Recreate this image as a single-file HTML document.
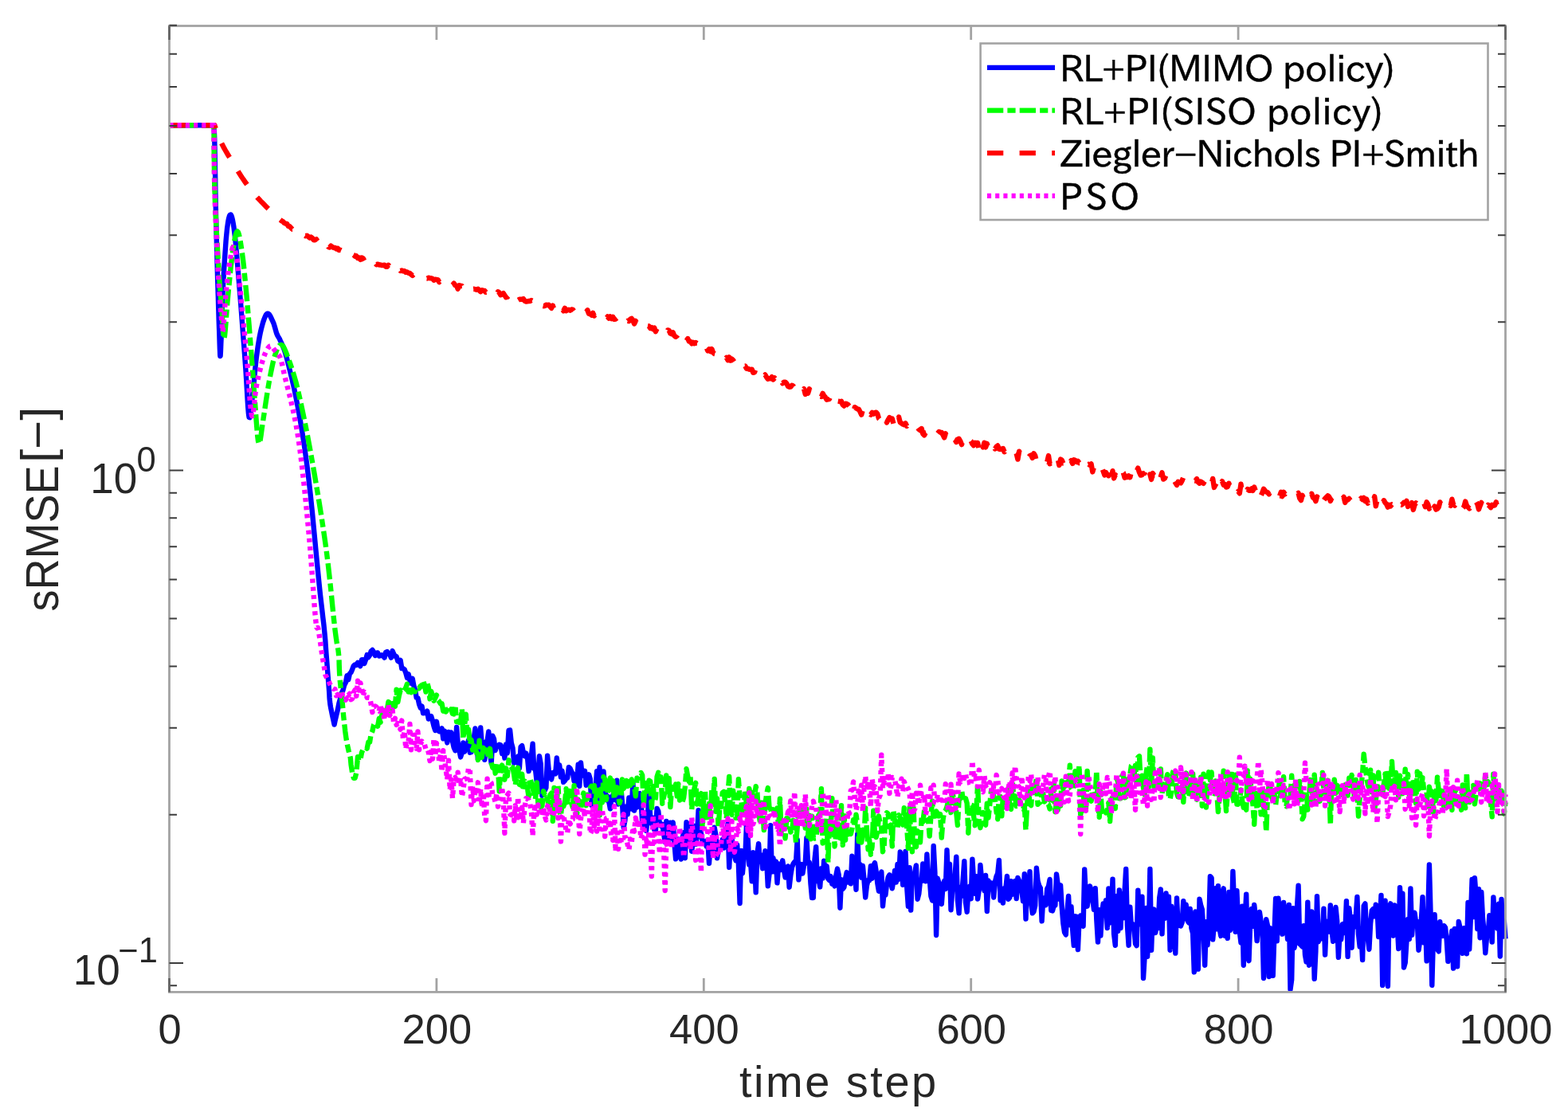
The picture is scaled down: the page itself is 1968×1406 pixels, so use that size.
<!DOCTYPE html><html><head><meta charset="utf-8"><style>html,body{margin:0;padding:0;background:#fff;overflow:hidden}svg{display:block}</style></head><body>
<svg width="1968" height="1406" viewBox="0 0 1968 1406">
<rect width="1968" height="1406" fill="#fff"/>
<path d="M212.5 157.3 L268.5 157.3 L268.6 159.7 L268.7 162.4 L268.9 165.9 L269.1 170.5 L269.3 176.8 L269.5 185.0 L269.7 195.7 L269.9 208.8 L270.2 223.4 L270.4 238.9 L270.7 254.5 L271.0 269.6 L271.4 284.6 L271.8 300.2 L272.2 316.0 L272.6 331.4 L273.0 346.0 L273.4 359.3 L273.8 371.4 L274.1 382.6 L274.4 393.0 L274.7 402.6 L275.0 411.2 L275.3 419.0 L275.5 426.1 L275.7 432.5 L275.9 438.1 L276.1 442.5 L276.2 445.6 L276.4 447.0 L276.6 446.7 L276.7 445.0 L276.9 441.9 L277.1 437.4 L277.3 431.8 L277.6 425.0 L277.9 416.6 L278.2 406.3 L278.6 394.9 L279.0 382.8 L279.5 370.8 L280.0 359.3 L280.6 347.9 L281.3 335.8 L282.1 323.8 L282.9 312.3 L283.6 302.0 L284.4 293.5 L285.1 286.6 L285.9 281.0 L286.6 276.5 L287.4 273.1 L288.1 270.8 L288.9 269.6 L289.6 269.5 L290.4 270.6 L291.1 272.8 L291.9 276.0 L292.6 279.9 L293.4 284.6 L294.1 290.0 L294.8 296.2 L295.6 303.3 L296.3 311.1 L297.1 319.9 L297.9 329.4 L298.8 340.3 L299.8 352.7 L300.9 365.9 L302.0 379.3 L303.0 392.3 L303.9 404.2 L304.7 415.0 L305.5 425.2 L306.3 435.0 L307.0 444.6 L307.7 454.2 L308.4 464.0 L309.1 475.0 L309.8 487.3 L310.5 499.5 L311.2 510.5 L311.9 519.0 L312.6 523.8 L313.4 524.2 L314.1 521.0 L314.9 515.4 L315.7 508.3 L316.5 500.8 L317.3 493.9 L318.0 487.2 L318.8 479.7 L319.5 471.8 L320.2 463.8 L321.0 456.1 L321.8 449.0 L322.7 442.3 L323.6 435.8 L324.6 429.5 L325.6 423.6 L326.7 418.1 L327.8 413.2 L329.0 408.7 L330.2 404.4 L331.5 400.6 L332.8 397.4 L334.0 395.0 L335.3 393.7 L336.6 393.7 L337.9 394.8 L339.2 396.8 L340.4 399.2 L341.6 401.8 L342.7 404.2 L343.7 406.6 L344.5 409.2 L345.3 412.0 L346.1 414.8 L346.8 417.4 L347.6 419.6 L348.3 421.2 L349.0 422.4 L349.6 423.4 L350.3 424.5 L351.1 425.9 L352.0 428.0 L353.1 430.4 L354.2 432.8 L355.4 435.6 L356.8 439.2 L358.3 443.9 L360.0 450.0 L362.0 457.7 L364.2 466.7 L366.7 476.9 L369.2 487.9 L371.6 499.7 L374.0 512.0 L376.3 524.6 L378.5 537.8 L380.7 551.6 L382.9 566.4 L385.1 582.5 L387.3 600.0 L389.6 620.4 L392.0 643.6 L394.3 668.1 L396.6 692.2 L398.7 714.1 L400.5 732.4 L402.0 746.6 L403.3 757.9 L404.4 767.1 L405.3 775.1 L406.2 782.4 L407.0 790.0 L407.7 797.4 L408.3 803.9 L408.7 809.9 L409.1 815.6 L409.5 821.3 L410.0 827.3 L410.5 833.7 L411.0 840.4 L411.5 847.1 L412.0 853.6 L412.5 859.5 L412.9 864.7 L413.2 868.9 L413.4 872.3 L413.5 875.2 L413.7 877.9 L414.0 880.7 L414.4 884.1 L415.1 888.3 L416.1 893.1 L417.1 898.0 L418.1 902.7 L419.0 906.7 L419.6 909.5 L420.4 905.6 L422.1 898.3 L423.8 891.3 L425.5 882.7 L427.2 876.7 L428.8 870.0 L430.5 866.5 L432.2 860.0 L433.9 856.8 L435.5 848.3 L437.2 853.2 L438.9 845.7 L440.6 844.0 L442.2 840.2 L443.9 835.7 L445.6 834.4 L447.3 834.9 L449.0 831.8 L450.6 832.9 L452.3 836.2 L454.0 828.1 L455.7 828.2 L457.3 832.9 L459.0 828.1 L460.7 822.1 L462.4 825.1 L464.1 822.5 L465.7 817.6 L467.4 816.0 L469.1 818.6 L470.8 822.9 L472.4 819.9 L474.1 819.4 L475.8 823.5 L477.5 823.2 L479.1 822.2 L480.8 822.7 L482.5 825.6 L484.2 818.9 L485.9 818.1 L487.5 820.9 L489.2 821.8 L490.9 825.6 L492.6 817.1 L494.2 821.0 L495.9 823.8 L497.6 824.1 L499.3 829.9 L500.9 830.9 L502.6 828.9 L504.3 839.1 L506.0 839.1 L507.7 840.5 L509.3 844.7 L511.0 851.0 L512.7 846.3 L514.4 854.2 L516.0 857.6 L517.7 851.9 L519.4 861.1 L521.1 865.8 L522.7 875.9 L524.4 876.1 L526.1 884.0 L527.8 888.5 L529.5 886.7 L531.1 895.3 L532.8 894.4 L534.5 895.3 L536.2 892.6 L537.8 902.5 L539.5 900.4 L541.2 899.2 L542.9 904.8 L544.5 911.5 L546.2 916.9 L547.9 905.8 L549.6 916.6 L551.3 918.3 L552.9 917.8 L554.6 914.4 L556.3 927.4 L558.0 917.7 L559.6 924.6 L561.3 932.4 L563.0 919.0 L564.7 928.0 L566.3 919.5 L568.0 930.8 L569.7 938.5 L571.4 942.3 L573.1 913.0 L574.7 932.7 L576.4 941.7 L578.1 950.4 L579.8 945.0 L581.4 932.4 L583.1 943.7 L584.8 934.3 L586.5 935.5 L588.1 928.9 L589.8 944.7 L591.5 944.2 L593.2 932.9 L594.9 925.7 L596.5 914.5 L598.2 931.5 L599.9 952.9 L601.6 938.2 L603.2 913.4 L604.9 936.0 L606.6 932.1 L608.3 953.7 L609.9 931.2 L611.6 929.9 L613.3 918.5 L615.0 945.3 L616.7 958.4 L618.3 923.8 L620.0 927.6 L621.7 942.1 L623.4 936.7 L625.0 936.9 L626.7 934.7 L628.4 935.2 L630.1 946.0 L631.8 938.0 L633.4 951.5 L635.1 934.4 L636.8 945.4 L638.5 916.9 L640.1 916.5 L641.8 932.7 L643.5 938.9 L645.2 957.7 L646.8 955.9 L648.5 957.0 L650.2 949.6 L651.9 964.5 L653.6 937.6 L655.2 936.2 L656.9 944.9 L658.6 949.3 L660.3 945.6 L661.9 950.7 L663.6 968.1 L665.3 961.7 L667.0 947.9 L668.6 933.8 L670.3 965.1 L672.0 966.1 L673.7 981.1 L675.4 969.7 L677.0 949.2 L678.7 958.7 L680.4 998.9 L682.1 986.9 L683.7 992.3 L685.4 988.8 L687.1 948.8 L688.8 967.2 L690.4 974.1 L692.1 978.4 L693.8 970.0 L695.5 970.2 L697.2 971.3 L698.8 951.5 L700.5 968.6 L702.2 960.5 L703.9 975.4 L705.5 967.6 L707.2 981.9 L708.9 980.1 L710.6 977.2 L712.2 976.5 L713.9 963.1 L715.6 964.6 L717.3 968.8 L719.0 971.2 L720.6 980.6 L722.3 975.5 L724.0 984.5 L725.7 959.8 L727.3 986.7 L729.0 957.4 L730.7 973.6 L732.4 970.6 L734.0 967.8 L735.7 985.7 L737.4 976.5 L739.1 972.4 L740.8 978.0 L742.4 1010.8 L744.1 991.3 L745.8 988.2 L747.5 989.3 L749.1 968.2 L750.8 1009.7 L752.5 963.1 L754.2 993.4 L755.8 1002.7 L757.5 968.5 L759.2 988.5 L760.9 1004.2 L762.6 999.5 L764.2 1006.0 L765.9 1015.3 L767.6 1000.6 L769.3 998.3 L770.9 993.8 L772.6 1004.5 L774.3 979.6 L776.0 1009.5 L777.6 994.3 L779.3 987.9 L781.0 1008.1 L782.7 1038.8 L784.4 1030.2 L786.0 1012.5 L787.7 1022.4 L789.4 1001.4 L791.1 1008.0 L792.7 1015.5 L794.4 981.9 L796.1 1017.6 L797.8 1008.4 L799.5 1013.5 L801.1 996.4 L802.8 996.1 L804.5 1003.5 L806.2 1032.8 L807.8 1039.8 L809.5 1020.1 L811.2 1042.9 L812.9 1024.5 L814.5 996.9 L816.2 1025.4 L817.9 1034.1 L819.6 1026.7 L821.3 1041.8 L822.9 1042.7 L824.6 1015.0 L826.3 1018.5 L828.0 1035.9 L829.6 1036.9 L831.3 1034.8 L833.0 1046.1 L834.7 1057.1 L836.3 1030.9 L838.0 1053.1 L839.7 1054.6 L841.4 1032.6 L843.1 1044.9 L844.7 1032.4 L846.4 1058.1 L848.1 1078.4 L849.8 1073.1 L851.4 1053.4 L853.1 1071.0 L854.8 1078.6 L856.5 1052.1 L858.1 1045.3 L859.8 1077.2 L861.5 1032.3 L863.2 1061.3 L864.9 1055.2 L866.5 1034.3 L868.2 1068.7 L869.9 1055.7 L871.6 1036.9 L873.2 1059.9 L874.9 1049.9 L876.6 1017.1 L878.3 1038.3 L879.9 1045.9 L881.6 1055.4 L883.3 1056.7 L885.0 1056.4 L886.7 1062.6 L888.3 1054.2 L890.0 1083.8 L891.7 1058.5 L893.4 1067.3 L895.0 1060.4 L896.7 1038.7 L898.4 1048.3 L900.1 1077.3 L901.7 1065.0 L903.4 1061.9 L905.1 1062.8 L906.8 1053.7 L908.5 1064.6 L910.1 1041.9 L911.8 1061.5 L913.5 1034.3 L915.2 1088.9 L916.8 1055.8 L918.5 1052.5 L920.2 1065.4 L921.9 1074.8 L923.5 1080.3 L925.2 1060.6 L926.9 1085.1 L928.6 1134.0 L930.3 1067.9 L931.9 1096.3 L933.6 1077.7 L935.3 1075.8 L937.0 1034.2 L938.6 1051.4 L940.3 1085.6 L942.0 1081.8 L943.7 1106.3 L945.3 1070.1 L947.0 1079.9 L948.7 1120.3 L950.4 1071.6 L952.1 1059.2 L953.7 1081.5 L955.4 1073.5 L957.1 1090.3 L958.8 1079.4 L960.4 1068.1 L962.1 1079.1 L963.8 1112.3 L965.5 1097.3 L967.1 1036.3 L968.8 1094.4 L970.5 1077.1 L972.2 1094.2 L973.9 1081.4 L975.5 1108.4 L977.2 1084.4 L978.9 1092.3 L980.6 1090.1 L982.2 1080.3 L983.9 1091.7 L985.6 1101.5 L987.3 1095.4 L989.0 1087.5 L990.6 1113.8 L992.3 1099.1 L994.0 1088.7 L995.7 1084.1 L997.3 1082.0 L999.0 1082.7 L1000.7 1054.1 L1002.4 1104.3 L1004.0 1089.4 L1005.7 1085.0 L1007.4 1096.5 L1009.1 1085.7 L1010.8 1082.6 L1012.4 1051.9 L1014.1 1083.9 L1015.8 1082.6 L1017.5 1109.8 L1019.1 1127.1 L1020.8 1127.0 L1022.5 1079.1 L1024.2 1063.1 L1025.8 1106.0 L1027.5 1102.4 L1029.2 1113.4 L1030.9 1090.1 L1032.6 1102.7 L1034.2 1080.7 L1035.9 1099.2 L1037.6 1087.2 L1039.3 1103.1 L1040.9 1105.1 L1042.6 1100.1 L1044.3 1109.7 L1046.0 1105.0 L1047.6 1112.4 L1049.3 1099.1 L1051.0 1090.6 L1052.7 1098.1 L1054.4 1139.7 L1056.0 1104.2 L1057.7 1116.0 L1059.4 1113.8 L1061.1 1103.0 L1062.7 1095.1 L1064.4 1107.6 L1066.1 1100.5 L1067.8 1109.3 L1069.4 1074.8 L1071.1 1085.5 L1072.8 1093.4 L1074.5 1116.7 L1076.2 1047.1 L1077.8 1091.2 L1079.5 1085.2 L1081.2 1101.6 L1082.9 1087.0 L1084.5 1104.5 L1086.2 1126.6 L1087.9 1111.8 L1089.6 1104.9 L1091.2 1105.2 L1092.9 1087.1 L1094.6 1102.7 L1096.3 1086.1 L1098.0 1083.2 L1099.6 1093.3 L1101.3 1108.6 L1103.0 1118.8 L1104.7 1104.1 L1106.3 1094.5 L1108.0 1137.4 L1109.7 1119.7 L1111.4 1123.6 L1113.0 1109.8 L1114.7 1101.3 L1116.4 1098.3 L1118.1 1108.2 L1119.8 1115.3 L1121.4 1105.5 L1123.1 1092.9 L1124.8 1107.5 L1126.5 1084.9 L1128.1 1103.7 L1129.8 1069.4 L1131.5 1077.3 L1133.2 1110.8 L1134.8 1103.7 L1136.5 1068.9 L1138.2 1113.5 L1139.9 1137.8 L1141.6 1089.1 L1143.2 1142.6 L1144.9 1098.3 L1146.6 1102.5 L1148.3 1094.3 L1149.9 1086.5 L1151.6 1128.7 L1153.3 1122.0 L1155.0 1105.7 L1156.7 1106.1 L1158.3 1084.5 L1160.0 1096.8 L1161.7 1106.3 L1163.4 1072.5 L1165.0 1097.8 L1166.7 1101.9 L1168.4 1125.0 L1170.1 1130.4 L1171.7 1062.0 L1173.4 1094.6 L1175.1 1174.0 L1176.8 1102.8 L1178.5 1108.5 L1180.1 1128.2 L1181.8 1134.9 L1183.5 1112.3 L1185.2 1105.9 L1186.8 1116.0 L1188.5 1067.2 L1190.2 1109.1 L1191.9 1084.7 L1193.5 1142.2 L1195.2 1118.0 L1196.9 1113.6 L1198.6 1098.7 L1200.3 1075.6 L1201.9 1129.5 L1203.6 1146.3 L1205.3 1113.6 L1207.0 1124.9 L1208.6 1105.0 L1210.3 1081.2 L1212.0 1132.9 L1213.7 1144.8 L1215.3 1118.7 L1217.0 1112.8 L1218.7 1128.2 L1220.4 1078.7 L1222.1 1105.7 L1223.7 1121.8 L1225.4 1100.1 L1227.1 1128.6 L1228.8 1117.0 L1230.4 1085.9 L1232.1 1104.1 L1233.8 1109.0 L1235.5 1118.2 L1237.1 1099.0 L1238.8 1144.0 L1240.5 1105.4 L1242.2 1113.4 L1243.9 1108.3 L1245.5 1111.2 L1247.2 1126.5 L1248.9 1107.2 L1250.6 1100.1 L1252.2 1096.6 L1253.9 1080.0 L1255.6 1130.4 L1257.3 1122.3 L1258.9 1133.6 L1260.6 1115.3 L1262.3 1115.5 L1264.0 1099.9 L1265.7 1128.7 L1267.3 1126.8 L1269.0 1106.3 L1270.7 1122.8 L1272.4 1116.4 L1274.0 1106.1 L1275.7 1128.0 L1277.4 1101.9 L1279.1 1105.6 L1280.7 1117.3 L1282.4 1118.8 L1284.1 1131.4 L1285.8 1097.3 L1287.5 1153.6 L1289.1 1110.1 L1290.8 1124.4 L1292.5 1094.1 L1294.2 1133.3 L1295.8 1146.4 L1297.5 1144.4 L1299.2 1136.8 L1300.9 1089.7 L1302.5 1105.9 L1304.2 1111.9 L1305.9 1114.9 L1307.6 1156.3 L1309.3 1127.4 L1310.9 1131.1 L1312.6 1136.3 L1314.3 1115.7 L1316.0 1112.5 L1317.6 1104.0 L1319.3 1143.0 L1321.0 1143.4 L1322.7 1137.2 L1324.4 1136.5 L1326.0 1097.5 L1327.7 1110.2 L1329.4 1128.6 L1331.1 1111.4 L1332.7 1138.2 L1334.4 1159.2 L1336.1 1170.4 L1337.8 1173.4 L1339.4 1144.0 L1341.1 1124.9 L1342.8 1161.2 L1344.5 1138.2 L1346.2 1167.3 L1347.8 1186.9 L1349.5 1150.3 L1351.2 1150.6 L1352.9 1192.0 L1354.5 1155.2 L1356.2 1149.4 L1357.9 1157.2 L1359.6 1162.8 L1361.2 1091.4 L1362.9 1125.8 L1364.6 1137.7 L1366.3 1125.8 L1368.0 1112.4 L1369.6 1118.1 L1371.3 1128.4 L1373.0 1141.8 L1374.7 1115.2 L1376.3 1154.3 L1378.0 1182.5 L1379.7 1142.1 L1381.4 1174.6 L1383.0 1146.9 L1384.7 1134.4 L1386.4 1146.2 L1388.1 1130.2 L1389.8 1165.0 L1391.4 1115.4 L1393.1 1158.5 L1394.8 1151.5 L1396.5 1103.6 L1398.1 1172.4 L1399.8 1186.7 L1401.5 1124.9 L1403.2 1168.8 L1404.8 1117.4 L1406.5 1165.0 L1408.2 1122.1 L1409.9 1152.4 L1411.6 1118.1 L1413.2 1091.0 L1414.9 1161.5 L1416.6 1186.7 L1418.3 1138.7 L1419.9 1162.3 L1421.6 1160.0 L1423.3 1163.3 L1425.0 1184.7 L1426.6 1187.1 L1428.3 1117.7 L1430.0 1153.3 L1431.7 1160.6 L1433.4 1125.6 L1435.0 1228.0 L1436.7 1199.9 L1438.4 1140.0 L1440.1 1200.8 L1441.7 1174.5 L1443.4 1091.0 L1445.1 1192.9 L1446.8 1145.0 L1448.4 1141.7 L1450.1 1171.0 L1451.8 1162.9 L1453.5 1165.2 L1455.2 1127.3 L1456.8 1116.4 L1458.5 1172.3 L1460.2 1124.2 L1461.9 1152.8 L1463.5 1121.5 L1465.2 1148.2 L1466.9 1125.7 L1468.6 1192.7 L1470.2 1137.6 L1471.9 1153.4 L1473.6 1150.6 L1475.3 1196.6 L1477.0 1127.4 L1478.6 1162.1 L1480.3 1152.9 L1482.0 1162.5 L1483.7 1157.7 L1485.3 1131.1 L1487.0 1152.7 L1488.7 1135.7 L1490.4 1155.6 L1492.1 1158.4 L1493.7 1141.0 L1495.4 1165.5 L1497.1 1171.6 L1498.8 1220.3 L1500.4 1144.4 L1502.1 1164.7 L1503.8 1216.6 L1505.5 1128.8 L1507.1 1136.1 L1508.8 1141.7 L1510.5 1169.4 L1512.2 1211.7 L1513.9 1157.3 L1515.5 1186.3 L1517.2 1161.0 L1518.9 1100.1 L1520.6 1102.1 L1522.2 1179.4 L1523.9 1160.1 L1525.6 1115.1 L1527.3 1166.2 L1528.9 1112.1 L1530.6 1165.3 L1532.3 1174.9 L1534.0 1125.4 L1535.7 1115.3 L1537.3 1174.7 L1539.0 1126.7 L1540.7 1177.8 L1542.4 1119.9 L1544.0 1167.9 L1545.7 1162.4 L1547.4 1094.0 L1549.1 1136.5 L1550.7 1169.8 L1552.4 1118.1 L1554.1 1158.2 L1555.8 1169.7 L1557.5 1183.4 L1559.1 1137.6 L1560.8 1211.7 L1562.5 1155.6 L1564.2 1122.7 L1565.8 1197.4 L1567.5 1206.2 L1569.2 1159.2 L1570.9 1140.9 L1572.5 1162.9 L1574.2 1135.9 L1575.9 1152.4 L1577.6 1181.1 L1579.3 1161.4 L1580.9 1145.0 L1582.6 1156.4 L1584.3 1160.3 L1586.0 1228.0 L1587.6 1177.0 L1589.3 1154.3 L1591.0 1162.2 L1592.7 1226.0 L1594.3 1165.3 L1596.0 1168.8 L1597.7 1224.9 L1599.4 1172.9 L1601.1 1127.9 L1602.7 1181.3 L1604.4 1127.8 L1606.1 1148.5 L1607.8 1158.1 L1609.4 1172.6 L1611.1 1132.9 L1612.8 1155.6 L1614.5 1159.1 L1616.1 1179.0 L1617.8 1135.9 L1619.5 1242.0 L1621.2 1229.7 L1622.9 1140.3 L1624.5 1190.1 L1626.2 1178.8 L1627.9 1140.3 L1629.6 1111.7 L1631.2 1184.9 L1632.9 1186.5 L1634.6 1188.3 L1636.3 1162.1 L1638.0 1198.6 L1639.6 1207.6 L1641.3 1132.7 L1643.0 1211.7 L1644.7 1163.3 L1646.3 1144.4 L1648.0 1157.8 L1649.7 1228.9 L1651.4 1194.0 L1653.0 1125.1 L1654.7 1182.2 L1656.4 1175.0 L1658.1 1178.4 L1659.8 1171.3 L1661.4 1140.6 L1663.1 1198.6 L1664.8 1156.7 L1666.5 1162.9 L1668.1 1169.6 L1669.8 1136.4 L1671.5 1168.9 L1673.2 1181.9 L1674.8 1156.3 L1676.5 1139.0 L1678.2 1156.1 L1679.9 1201.8 L1681.6 1169.1 L1683.2 1179.5 L1684.9 1160.3 L1686.6 1159.7 L1688.3 1170.9 L1689.9 1131.2 L1691.6 1200.8 L1693.3 1140.2 L1695.0 1156.0 L1696.6 1189.7 L1698.3 1151.3 L1700.0 1163.5 L1701.7 1150.5 L1703.4 1126.0 L1705.0 1172.7 L1706.7 1188.3 L1708.4 1170.6 L1710.1 1205.1 L1711.7 1137.2 L1713.4 1134.4 L1715.1 1169.5 L1716.8 1178.7 L1718.4 1191.7 L1720.1 1159.5 L1721.8 1143.1 L1723.5 1141.1 L1725.2 1150.4 L1726.8 1135.6 L1728.5 1138.4 L1730.2 1176.0 L1731.9 1158.6 L1733.5 1124.0 L1735.2 1236.9 L1736.9 1152.6 L1738.6 1130.8 L1740.2 1181.6 L1741.9 1238.0 L1743.6 1139.1 L1745.3 1134.4 L1747.0 1140.2 L1748.6 1174.7 L1750.3 1136.4 L1752.0 1150.2 L1753.7 1160.6 L1755.3 1191.0 L1757.0 1114.2 L1758.7 1143.4 L1760.4 1121.7 L1762.0 1214.5 L1763.7 1208.7 L1765.4 1182.6 L1767.1 1153.9 L1768.8 1179.0 L1770.4 1115.5 L1772.1 1173.7 L1773.8 1151.8 L1775.5 1145.8 L1777.1 1158.0 L1778.8 1156.9 L1780.5 1192.7 L1782.2 1181.1 L1783.8 1156.7 L1785.5 1126.2 L1787.2 1183.4 L1788.9 1153.3 L1790.6 1206.3 L1792.2 1149.6 L1793.9 1085.5 L1795.6 1147.6 L1797.3 1236.8 L1798.9 1178.1 L1800.6 1148.3 L1802.3 1187.5 L1804.0 1191.8 L1805.7 1194.3 L1807.3 1157.3 L1809.0 1171.1 L1810.7 1174.8 L1812.4 1162.2 L1814.0 1164.4 L1815.7 1179.8 L1817.4 1206.9 L1819.1 1184.7 L1820.7 1183.2 L1822.4 1168.7 L1824.1 1215.6 L1825.8 1165.9 L1827.5 1176.5 L1829.1 1213.4 L1830.8 1156.9 L1832.5 1164.6 L1834.2 1183.6 L1835.8 1196.9 L1837.5 1165.1 L1839.2 1177.7 L1840.9 1197.2 L1842.5 1133.0 L1844.2 1191.6 L1845.9 1151.6 L1847.6 1104.0 L1849.3 1151.1 L1850.9 1102.3 L1852.6 1124.6 L1854.3 1166.1 L1856.0 1116.2 L1857.6 1177.2 L1859.3 1119.9 L1861.0 1152.9 L1862.7 1170.2 L1864.3 1196.2 L1866.0 1176.7 L1867.7 1172.5 L1869.4 1149.1 L1871.1 1156.0 L1872.7 1182.6 L1874.4 1126.4 L1876.1 1160.3 L1877.8 1144.8 L1879.4 1165.5 L1881.1 1134.8 L1882.8 1200.5 L1884.5 1128.9 L1886.1 1173.0 L1887.8 1156.1 L1889.5 1178.4" fill="none" stroke="#0000ff" stroke-width="6.4" stroke-linejoin="round"/>
<path d="M212.5 157.3 L268.5 157.3 L268.6 166.2 L268.6 178.4 L268.7 192.9 L268.9 208.6 L269.1 224.6 L269.5 239.7 L270.0 254.6 L270.7 270.2 L271.5 286.0 L272.4 301.4 L273.2 316.1 L274.0 329.4 L274.8 341.4 L275.5 352.4 L276.3 362.7 L277.0 372.1 L277.7 381.0 L278.4 389.2 L279.0 397.6 L279.4 406.1 L279.9 414.1 L280.3 420.4 L280.8 424.4 L281.4 425.1 L282.0 421.7 L282.7 414.8 L283.5 405.5 L284.2 394.9 L285.0 384.1 L285.9 374.3 L286.8 364.8 L287.8 354.7 L288.8 344.4 L289.8 334.4 L290.9 325.3 L291.9 317.5 L292.9 310.7 L293.9 304.3 L294.9 298.8 L295.9 294.4 L296.9 291.5 L297.9 290.5 L298.9 291.5 L299.9 294.4 L300.9 298.8 L301.9 304.3 L302.9 310.7 L303.9 317.5 L304.9 325.0 L305.9 333.6 L306.8 342.9 L307.8 352.9 L308.8 363.5 L309.8 374.3 L310.8 385.9 L311.8 398.4 L312.9 411.5 L313.9 424.5 L314.9 437.2 L315.8 449.0 L316.6 460.0 L317.4 470.5 L318.1 480.6 L318.9 490.4 L319.6 499.8 L320.3 508.9 L321.0 518.5 L321.7 528.7 L322.5 538.6 L323.2 547.2 L324.0 553.5 L324.8 556.7 L325.7 556.0 L326.7 551.9 L327.7 545.7 L328.7 538.2 L329.8 530.6 L330.8 523.8 L331.8 517.6 L332.7 511.2 L333.7 504.5 L334.7 497.9 L335.7 491.3 L336.8 484.9 L337.9 478.5 L339.1 472.0 L340.4 465.5 L341.7 459.4 L342.9 453.8 L344.2 449.0 L345.5 444.8 L346.8 441.1 L348.1 437.9 L349.4 435.4 L350.7 433.7 L352.0 432.9 L353.3 432.9 L354.4 433.6 L355.6 435.1 L356.9 437.5 L358.3 440.8 L360.0 445.0 L361.9 450.1 L364.1 456.0 L366.4 462.7 L368.8 470.6 L371.4 479.6 L374.0 490.0 L376.7 501.9 L379.6 515.4 L382.6 530.0 L385.7 545.6 L388.7 561.7 L391.7 578.2 L394.7 595.4 L397.8 613.6 L400.9 632.5 L403.9 651.5 L406.7 670.3 L409.3 688.4 L411.6 706.7 L413.7 725.6 L415.7 744.2 L417.4 761.8 L419.0 777.3 L420.4 790.0 L421.6 799.1 L422.5 805.3 L423.2 809.4 L423.9 812.6 L424.4 815.7 L424.9 819.9 L425.3 824.9 L425.6 829.9 L425.7 834.9 L425.9 839.8 L426.1 844.8 L426.4 849.8 L426.8 854.8 L427.3 859.7 L427.8 864.7 L428.4 869.7 L428.9 874.6 L429.4 879.6 L429.9 884.7 L430.4 889.8 L430.8 895.0 L431.3 900.1 L431.8 904.9 L432.3 909.5 L432.8 913.7 L433.2 917.6 L433.7 921.4 L434.2 924.9 L434.7 928.4 L435.3 931.9 L436.0 935.5 L436.9 939.3 L437.7 943.0 L438.6 946.4 L439.3 949.2 L439.8 951.3 L440.6 959.9 L442.2 970.4 L443.9 976.7 L445.6 976.8 L447.3 970.1 L449.0 950.2 L450.6 955.3 L452.3 953.9 L454.0 944.7 L455.7 940.8 L457.3 938.0 L459.0 938.3 L460.7 939.6 L462.4 931.4 L464.1 931.4 L465.7 921.4 L467.4 917.8 L469.1 910.0 L470.8 907.1 L472.4 909.2 L474.1 911.7 L475.8 902.0 L477.5 906.8 L479.1 898.4 L480.8 894.3 L482.5 893.7 L484.2 898.0 L485.9 890.9 L487.5 881.1 L489.2 882.7 L490.9 893.0 L492.6 879.8 L494.2 885.3 L495.9 886.7 L497.6 865.8 L499.3 881.3 L500.9 873.0 L502.6 866.4 L504.3 868.9 L506.0 867.6 L507.7 865.9 L509.3 863.4 L511.0 858.7 L512.7 868.6 L514.4 866.3 L516.0 869.2 L517.7 865.9 L519.4 868.0 L521.1 868.2 L522.7 863.3 L524.4 863.2 L526.1 864.2 L527.8 861.1 L529.5 861.4 L531.1 854.5 L532.8 859.7 L534.5 868.6 L536.2 857.4 L537.8 863.0 L539.5 877.3 L541.2 867.8 L542.9 873.5 L544.5 879.7 L546.2 876.4 L547.9 872.6 L549.6 878.8 L551.3 880.6 L552.9 883.3 L554.6 883.3 L556.3 892.7 L558.0 886.0 L559.6 893.5 L561.3 891.8 L563.0 894.2 L564.7 895.7 L566.3 890.3 L568.0 896.0 L569.7 896.5 L571.4 885.3 L573.1 906.0 L574.7 905.4 L576.4 907.0 L578.1 906.1 L579.8 889.9 L581.4 927.6 L583.1 910.4 L584.8 896.8 L586.5 923.5 L588.1 915.6 L589.8 934.3 L591.5 928.8 L593.2 941.5 L594.9 936.2 L596.5 941.7 L598.2 944.1 L599.9 954.0 L601.6 929.7 L603.2 955.8 L604.9 949.8 L606.6 938.8 L608.3 946.3 L609.9 941.3 L611.6 943.8 L613.3 951.0 L615.0 939.8 L616.7 957.4 L618.3 963.7 L620.0 958.7 L621.7 970.7 L623.4 957.2 L625.0 964.3 L626.7 993.2 L628.4 964.5 L630.1 960.6 L631.8 965.3 L633.4 978.7 L635.1 964.5 L636.8 974.2 L638.5 954.2 L640.1 961.4 L641.8 963.4 L643.5 963.3 L645.2 972.8 L646.8 985.2 L648.5 975.3 L650.2 963.8 L651.9 984.8 L653.6 985.5 L655.2 971.7 L656.9 992.7 L658.6 980.7 L660.3 984.8 L661.9 988.8 L663.6 1000.3 L665.3 977.0 L667.0 983.4 L668.6 987.0 L670.3 999.4 L672.0 1003.3 L673.7 982.4 L675.4 1008.6 L677.0 1002.5 L678.7 1013.2 L680.4 1011.6 L682.1 993.1 L683.7 997.8 L685.4 995.8 L687.1 1003.1 L688.8 1013.8 L690.4 997.9 L692.1 995.7 L693.8 1030.9 L695.5 988.9 L697.2 1002.8 L698.8 1006.0 L700.5 986.6 L702.2 1018.6 L703.9 1024.2 L705.5 1007.2 L707.2 1012.3 L708.9 1007.8 L710.6 990.2 L712.2 1007.0 L713.9 988.3 L715.6 991.9 L717.3 1008.6 L719.0 1013.5 L720.6 986.3 L722.3 1009.4 L724.0 1023.5 L725.7 1003.6 L727.3 1009.7 L729.0 1016.0 L730.7 1002.4 L732.4 995.5 L734.0 1003.6 L735.7 1011.2 L737.4 1000.9 L739.1 995.4 L740.8 988.9 L742.4 986.8 L744.1 989.0 L745.8 986.1 L747.5 1009.3 L749.1 991.6 L750.8 1000.8 L752.5 1023.6 L754.2 990.6 L755.8 1007.3 L757.5 975.1 L759.2 978.5 L760.9 1003.9 L762.6 995.1 L764.2 984.1 L765.9 976.5 L767.6 996.3 L769.3 980.3 L770.9 1002.6 L772.6 997.5 L774.3 988.3 L776.0 999.0 L777.6 1008.2 L779.3 1002.1 L781.0 978.5 L782.7 990.0 L784.4 986.9 L786.0 979.9 L787.7 987.0 L789.4 981.2 L791.1 985.7 L792.7 978.4 L794.4 986.3 L796.1 987.6 L797.8 999.3 L799.5 976.8 L801.1 977.1 L802.8 975.5 L804.5 970.0 L806.2 973.3 L807.8 1011.3 L809.5 982.9 L811.2 993.9 L812.9 989.2 L814.5 979.7 L816.2 980.7 L817.9 1014.1 L819.6 983.5 L821.3 1006.6 L822.9 1001.9 L824.6 975.0 L826.3 969.8 L828.0 975.6 L829.6 975.5 L831.3 1008.9 L833.0 1000.4 L834.7 993.2 L836.3 973.5 L838.0 993.8 L839.7 977.3 L841.4 1013.0 L843.1 988.0 L844.7 992.7 L846.4 991.1 L848.1 984.6 L849.8 999.3 L851.4 984.2 L853.1 1004.6 L854.8 993.0 L856.5 1007.0 L858.1 1001.4 L859.8 988.1 L861.5 965.2 L863.2 974.6 L864.9 981.1 L866.5 974.3 L868.2 1016.1 L869.9 996.0 L871.6 989.2 L873.2 982.8 L874.9 1009.5 L876.6 999.9 L878.3 998.6 L879.9 996.2 L881.6 1038.5 L883.3 1000.9 L885.0 993.7 L886.7 1030.6 L888.3 1027.0 L890.0 1008.6 L891.7 1029.2 L893.4 989.6 L895.0 1005.5 L896.7 977.9 L898.4 1018.7 L900.1 1002.5 L901.7 1039.4 L903.4 1011.6 L905.1 1013.0 L906.8 995.0 L908.5 993.8 L910.1 1006.6 L911.8 1027.1 L913.5 997.5 L915.2 975.0 L916.8 1016.0 L918.5 1022.8 L920.2 992.8 L921.9 1013.4 L923.5 1026.8 L925.2 1026.8 L926.9 978.2 L928.6 1001.1 L930.3 1005.4 L931.9 1018.1 L933.6 1016.8 L935.3 991.4 L937.0 1013.2 L938.6 1027.6 L940.3 989.9 L942.0 999.8 L943.7 994.8 L945.3 1004.2 L947.0 999.6 L948.7 987.2 L950.4 995.5 L952.1 1021.5 L953.7 1030.1 L955.4 1004.2 L957.1 1012.9 L958.8 1042.1 L960.4 1010.0 L962.1 997.3 L963.8 989.1 L965.5 1013.9 L967.1 1015.2 L968.8 1021.2 L970.5 1016.3 L972.2 1019.6 L973.9 1026.7 L975.5 1014.5 L977.2 1039.9 L978.9 1002.6 L980.6 1044.5 L982.2 1030.8 L983.9 1038.6 L985.6 1052.4 L987.3 1027.3 L989.0 1027.5 L990.6 1032.6 L992.3 1044.6 L994.0 1041.9 L995.7 1029.8 L997.3 1036.0 L999.0 1057.8 L1000.7 1039.3 L1002.4 1016.9 L1004.0 1023.8 L1005.7 1016.5 L1007.4 1027.4 L1009.1 1018.6 L1010.8 1039.5 L1012.4 1015.8 L1014.1 1049.8 L1015.8 1023.6 L1017.5 1053.3 L1019.1 1024.7 L1020.8 1051.4 L1022.5 1052.6 L1024.2 1052.4 L1025.8 1039.5 L1027.5 1023.2 L1029.2 1021.7 L1030.9 990.3 L1032.6 1058.5 L1034.2 1054.3 L1035.9 1047.4 L1037.6 1027.2 L1039.3 1082.8 L1040.9 1036.1 L1042.6 1044.8 L1044.3 1002.2 L1046.0 1033.2 L1047.6 1062.5 L1049.3 1047.8 L1051.0 1024.4 L1052.7 1040.0 L1054.4 1052.0 L1056.0 1011.2 L1057.7 1060.8 L1059.4 1020.8 L1061.1 1054.5 L1062.7 1036.5 L1064.4 1047.4 L1066.1 1044.9 L1067.8 1046.9 L1069.4 1040.3 L1071.1 1029.2 L1072.8 1037.9 L1074.5 1022.8 L1076.2 1035.1 L1077.8 1056.3 L1079.5 1038.1 L1081.2 1057.5 L1082.9 1045.3 L1084.5 1051.9 L1086.2 1014.5 L1087.9 1041.1 L1089.6 1066.2 L1091.2 1054.4 L1092.9 1072.8 L1094.6 1062.8 L1096.3 1017.8 L1098.0 1046.5 L1099.6 1050.9 L1101.3 1044.1 L1103.0 1024.5 L1104.7 1033.4 L1106.3 1039.2 L1108.0 1069.2 L1109.7 1061.2 L1111.4 1024.5 L1113.0 1020.2 L1114.7 1021.6 L1116.4 1038.1 L1118.1 1035.5 L1119.8 1062.3 L1121.4 1017.0 L1123.1 1032.2 L1124.8 1031.0 L1126.5 1039.6 L1128.1 1023.3 L1129.8 1026.6 L1131.5 1029.1 L1133.2 1035.6 L1134.8 1014.3 L1136.5 1024.9 L1138.2 1038.4 L1139.9 1064.8 L1141.6 1013.9 L1143.2 1050.5 L1144.9 1069.2 L1146.6 1014.6 L1148.3 1061.7 L1149.9 1063.0 L1151.6 1043.2 L1153.3 1045.9 L1155.0 1057.3 L1156.7 1025.6 L1158.3 1031.9 L1160.0 1018.6 L1161.7 1024.1 L1163.4 1030.2 L1165.0 1028.8 L1166.7 1049.5 L1168.4 1024.9 L1170.1 1005.7 L1171.7 1028.9 L1173.4 1029.4 L1175.1 1018.4 L1176.8 1021.1 L1178.5 1024.4 L1180.1 1022.1 L1181.8 1051.5 L1183.5 1029.6 L1185.2 1019.1 L1186.8 1017.3 L1188.5 1012.8 L1190.2 1004.9 L1191.9 1004.9 L1193.5 1020.1 L1195.2 996.0 L1196.9 1001.5 L1198.6 999.6 L1200.3 1020.5 L1201.9 1035.8 L1203.6 1003.8 L1205.3 1002.2 L1207.0 991.7 L1208.6 1002.9 L1210.3 1005.6 L1212.0 1002.3 L1213.7 1008.4 L1215.3 1045.7 L1217.0 1011.0 L1218.7 1010.6 L1220.4 1011.1 L1222.1 1024.6 L1223.7 1036.2 L1225.4 1017.0 L1227.1 984.5 L1228.8 1030.6 L1230.4 1039.2 L1232.1 1030.8 L1233.8 1019.9 L1235.5 1026.7 L1237.1 1035.8 L1238.8 1008.7 L1240.5 1026.6 L1242.2 1010.9 L1243.9 993.5 L1245.5 992.4 L1247.2 999.5 L1248.9 1003.5 L1250.6 1019.1 L1252.2 1028.3 L1253.9 1000.8 L1255.6 1000.1 L1257.3 1024.3 L1258.9 1000.4 L1260.6 1013.3 L1262.3 1008.3 L1264.0 1011.7 L1265.7 990.0 L1267.3 1013.6 L1269.0 1015.9 L1270.7 980.5 L1272.4 1002.4 L1274.0 999.4 L1275.7 1012.0 L1277.4 1011.8 L1279.1 1004.2 L1280.7 1006.7 L1282.4 1015.1 L1284.1 1015.6 L1285.8 1011.6 L1287.5 1042.0 L1289.1 1010.5 L1290.8 990.5 L1292.5 1009.2 L1294.2 1011.1 L1295.8 987.3 L1297.5 994.8 L1299.2 990.5 L1300.9 976.2 L1302.5 1009.8 L1304.2 1007.9 L1305.9 1006.9 L1307.6 998.0 L1309.3 996.6 L1310.9 1006.4 L1312.6 1003.5 L1314.3 1008.5 L1316.0 1009.8 L1317.6 1015.5 L1319.3 990.4 L1321.0 1004.8 L1322.7 984.5 L1324.4 1019.2 L1326.0 1005.7 L1327.7 1017.0 L1329.4 1000.7 L1331.1 1011.6 L1332.7 980.4 L1334.4 990.4 L1336.1 982.8 L1337.8 986.3 L1339.4 976.8 L1341.1 985.2 L1342.8 960.7 L1344.5 989.7 L1346.2 992.1 L1347.8 986.9 L1349.5 968.1 L1351.2 979.4 L1352.9 977.8 L1354.5 960.9 L1356.2 1022.5 L1357.9 1014.0 L1359.6 991.9 L1361.2 1022.3 L1362.9 1015.9 L1364.6 967.9 L1366.3 999.7 L1368.0 999.5 L1369.6 1005.7 L1371.3 992.4 L1373.0 999.7 L1374.7 998.5 L1376.3 967.6 L1378.0 1009.1 L1379.7 1025.8 L1381.4 994.0 L1383.0 1018.9 L1384.7 1018.2 L1386.4 1013.8 L1388.1 1020.4 L1389.8 1015.5 L1391.4 1007.7 L1393.1 1031.1 L1394.8 1003.6 L1396.5 1000.6 L1398.1 1008.7 L1399.8 1014.9 L1401.5 977.4 L1403.2 980.8 L1404.8 1002.3 L1406.5 1002.3 L1408.2 974.2 L1409.9 971.7 L1411.6 1001.3 L1413.2 1000.6 L1414.9 979.2 L1416.6 977.4 L1418.3 972.4 L1419.9 961.3 L1421.6 959.5 L1423.3 975.2 L1425.0 960.9 L1426.6 982.9 L1428.3 950.7 L1430.0 949.3 L1431.7 981.8 L1433.4 973.7 L1435.0 988.5 L1436.7 997.6 L1438.4 972.0 L1440.1 961.0 L1441.7 988.1 L1443.4 940.7 L1445.1 985.8 L1446.8 951.5 L1448.4 988.1 L1450.1 987.2 L1451.8 979.7 L1453.5 987.0 L1455.2 984.1 L1456.8 965.5 L1458.5 996.8 L1460.2 984.4 L1461.9 989.2 L1463.5 980.3 L1465.2 972.2 L1466.9 1000.5 L1468.6 1003.1 L1470.2 995.0 L1471.9 970.1 L1473.6 965.1 L1475.3 970.5 L1477.0 995.9 L1478.6 1000.4 L1480.3 1000.6 L1482.0 989.2 L1483.7 986.8 L1485.3 1006.7 L1487.0 978.0 L1488.7 970.5 L1490.4 998.9 L1492.1 1000.5 L1493.7 993.6 L1495.4 971.6 L1497.1 971.4 L1498.8 999.1 L1500.4 992.7 L1502.1 1003.8 L1503.8 985.2 L1505.5 991.3 L1507.1 975.6 L1508.8 1011.7 L1510.5 971.8 L1512.2 1001.0 L1513.9 1013.6 L1515.5 982.2 L1517.2 969.3 L1518.9 979.3 L1520.6 969.4 L1522.2 995.2 L1523.9 996.2 L1525.6 980.5 L1527.3 994.7 L1528.9 1019.0 L1530.6 1000.2 L1532.3 986.1 L1534.0 998.6 L1535.7 967.7 L1537.3 992.1 L1539.0 1018.0 L1540.7 996.8 L1542.4 971.7 L1544.0 987.9 L1545.7 968.0 L1547.4 1000.9 L1549.1 1008.3 L1550.7 972.6 L1552.4 1009.6 L1554.1 1009.7 L1555.8 1006.1 L1557.5 991.4 L1559.1 1004.8 L1560.8 1013.8 L1562.5 1009.8 L1564.2 1016.7 L1565.8 967.4 L1567.5 988.6 L1569.2 977.6 L1570.9 997.9 L1572.5 1010.3 L1574.2 1034.9 L1575.9 995.6 L1577.6 1015.0 L1579.3 1003.8 L1580.9 993.2 L1582.6 1022.4 L1584.3 989.0 L1586.0 1012.6 L1587.6 1019.5 L1589.3 1044.2 L1591.0 997.3 L1592.7 986.4 L1594.3 988.1 L1596.0 999.3 L1597.7 1007.2 L1599.4 995.0 L1601.1 1010.8 L1602.7 996.5 L1604.4 997.1 L1606.1 975.7 L1607.8 999.3 L1609.4 994.7 L1611.1 975.2 L1612.8 1010.1 L1614.5 1012.2 L1616.1 998.2 L1617.8 998.0 L1619.5 1000.3 L1621.2 973.8 L1622.9 1000.1 L1624.5 986.0 L1626.2 997.4 L1627.9 998.1 L1629.6 1005.4 L1631.2 980.9 L1632.9 995.4 L1634.6 1028.4 L1636.3 1024.8 L1638.0 1004.1 L1639.6 993.2 L1641.3 1016.5 L1643.0 1002.9 L1644.7 978.9 L1646.3 990.6 L1648.0 1009.3 L1649.7 972.7 L1651.4 997.8 L1653.0 994.1 L1654.7 1006.3 L1656.4 1005.8 L1658.1 990.6 L1659.8 969.9 L1661.4 991.1 L1663.1 997.0 L1664.8 997.2 L1666.5 979.6 L1668.1 985.8 L1669.8 1035.9 L1671.5 981.5 L1673.2 996.2 L1674.8 978.8 L1676.5 995.8 L1678.2 985.8 L1679.9 996.6 L1681.6 988.0 L1683.2 996.9 L1684.9 997.8 L1686.6 992.9 L1688.3 985.2 L1689.9 991.4 L1691.6 998.6 L1693.3 976.7 L1695.0 985.2 L1696.6 973.0 L1698.3 981.6 L1700.0 1003.2 L1701.7 978.9 L1703.4 997.1 L1705.0 1024.5 L1706.7 999.7 L1708.4 986.5 L1710.1 970.8 L1711.7 946.6 L1713.4 962.7 L1715.1 974.2 L1716.8 985.2 L1718.4 988.9 L1720.1 966.6 L1721.8 994.2 L1723.5 973.4 L1725.2 1016.7 L1726.8 1004.7 L1728.5 984.0 L1730.2 969.8 L1731.9 997.3 L1733.5 995.9 L1735.2 997.7 L1736.9 984.4 L1738.6 971.5 L1740.2 987.9 L1741.9 966.7 L1743.6 989.7 L1745.3 988.5 L1747.0 956.0 L1748.6 983.2 L1750.3 980.7 L1752.0 970.0 L1753.7 981.7 L1755.3 1000.8 L1757.0 973.8 L1758.7 977.3 L1760.4 996.3 L1762.0 989.1 L1763.7 965.8 L1765.4 989.2 L1767.1 971.9 L1768.8 997.7 L1770.4 996.9 L1772.1 995.2 L1773.8 977.3 L1775.5 990.3 L1777.1 1008.3 L1778.8 968.6 L1780.5 991.0 L1782.2 971.3 L1783.8 988.8 L1785.5 976.1 L1787.2 993.2 L1788.9 994.1 L1790.6 994.4 L1792.2 1017.8 L1793.9 987.7 L1795.6 998.1 L1797.3 993.6 L1798.9 1019.5 L1800.6 996.3 L1802.3 1005.2 L1804.0 975.7 L1805.7 991.9 L1807.3 1003.4 L1809.0 994.7 L1810.7 989.1 L1812.4 1016.8 L1814.0 999.3 L1815.7 1007.9 L1817.4 999.8 L1819.1 1010.5 L1820.7 990.6 L1822.4 1016.7 L1824.1 997.0 L1825.8 994.7 L1827.5 991.2 L1829.1 1007.2 L1830.8 1002.6 L1832.5 1004.8 L1834.2 1016.7 L1835.8 985.5 L1837.5 1005.5 L1839.2 1014.3 L1840.9 970.0 L1842.5 1006.6 L1844.2 1006.9 L1845.9 995.1 L1847.6 1000.0 L1849.3 985.9 L1850.9 1009.2 L1852.6 997.2 L1854.3 982.0 L1856.0 990.5 L1857.6 983.3 L1859.3 989.6 L1861.0 982.9 L1862.7 993.8 L1864.3 973.0 L1866.0 983.3 L1867.7 981.3 L1869.4 989.4 L1871.1 1008.0 L1872.7 1025.3 L1874.4 971.6 L1876.1 1006.5 L1877.8 996.4 L1879.4 988.6 L1881.1 995.6 L1882.8 1002.9 L1884.5 992.7 L1886.1 1000.5 L1887.8 1021.6 L1889.5 1007.1" fill="none" stroke="#00ff00" stroke-width="6.4" stroke-linejoin="round" stroke-dasharray="20.3 5.1 10.2 5.1"/>
<path d="M212.5 157.3 L269.5 157.3 L269.8 158.4 L270.3 159.9 L270.8 161.7 L271.4 163.6 L272.0 165.4 L272.5 167.0 L272.9 168.3 L273.3 169.4 L273.7 170.4 L274.2 171.6 L274.7 172.9 L275.5 174.5 L276.4 176.5 L277.5 178.6 L278.7 181.0 L280.0 183.5 L281.4 186.2 L283.0 189.0 L284.8 192.0 L286.7 195.3 L288.9 198.8 L291.0 202.2 L293.0 205.5 L294.9 208.5 L296.5 211.2 L298.0 213.6 L299.3 215.8 L300.7 218.1 L302.2 220.4 L303.9 223.0 L305.9 225.9 L308.1 229.1 L310.4 232.3 L312.8 235.6 L315.1 238.7 L317.3 241.5 L319.4 244.0 L321.4 246.2 L323.3 248.3 L325.2 250.3 L327.2 252.4 L329.3 254.5 L331.5 256.8 L333.8 259.2 L336.2 261.6 L338.5 263.9 L340.7 266.1 L342.7 268.0 L344.6 269.7 L346.4 271.4 L348.2 272.8 L349.7 274.1 L351.0 275.2 L352.0 276.0 L353.4 277.3 L355.0 277.9 L356.7 279.9 L358.4 280.7 L360.1 280.9 L361.8 283.8 L363.4 284.2 L365.1 285.8 L366.8 287.8 L368.5 287.7 L370.1 287.8 L371.8 289.1 L373.5 291.3 L375.2 290.3 L376.8 292.6 L378.5 293.6 L380.2 293.1 L381.9 295.1 L383.6 296.2 L385.2 295.8 L386.9 296.9 L388.6 298.6 L390.3 297.6 L391.9 298.8 L393.6 301.3 L395.3 301.2 L397.0 300.4 L398.6 302.6 L400.3 305.2 L402.0 302.5 L403.7 305.5 L405.4 306.2 L407.0 306.0 L408.7 307.5 L410.4 306.9 L412.1 309.8 L413.7 310.6 L415.4 308.7 L417.1 310.0 L418.8 311.0 L420.4 310.9 L422.1 312.5 L423.8 311.7 L425.5 314.0 L427.2 313.8 L428.8 314.6 L430.5 315.8 L432.2 316.9 L433.9 315.6 L435.5 318.1 L437.2 318.8 L438.9 318.5 L440.6 320.9 L442.2 319.1 L443.9 320.0 L445.6 321.7 L447.3 321.3 L449.0 324.1 L450.6 323.6 L452.3 325.8 L454.0 323.5 L455.7 324.3 L457.3 327.4 L459.0 325.5 L460.7 328.3 L462.4 326.9 L464.1 328.7 L465.7 330.2 L467.4 329.4 L469.1 328.7 L470.8 329.9 L472.4 332.2 L474.1 331.6 L475.8 332.6 L477.5 332.4 L479.1 333.1 L480.8 333.0 L482.5 332.6 L484.2 334.7 L485.9 334.8 L487.5 332.8 L489.2 335.5 L490.9 337.1 L492.6 338.6 L494.2 335.4 L495.9 337.5 L497.6 338.5 L499.3 339.2 L500.9 338.1 L502.6 340.0 L504.3 339.4 L506.0 340.4 L507.7 340.3 L509.3 341.8 L511.0 341.5 L512.7 342.8 L514.4 342.9 L516.0 344.5 L517.7 345.9 L519.4 344.3 L521.1 344.1 L522.7 345.1 L524.4 345.2 L526.1 344.3 L527.8 346.7 L529.5 346.5 L531.1 348.6 L532.8 347.8 L534.5 349.4 L536.2 349.6 L537.8 348.6 L539.5 349.2 L541.2 349.3 L542.9 349.8 L544.5 351.7 L546.2 350.6 L547.9 351.1 L549.6 351.1 L551.3 354.1 L552.9 352.5 L554.6 353.2 L556.3 352.8 L558.0 354.6 L559.6 353.8 L561.3 354.4 L563.0 353.3 L564.7 354.2 L566.3 356.9 L568.0 358.1 L569.7 355.6 L571.4 358.3 L573.1 358.8 L574.7 362.7 L576.4 358.2 L578.1 359.1 L579.8 359.0 L581.4 361.7 L583.1 362.3 L584.8 361.1 L586.5 363.7 L588.1 364.7 L589.8 361.9 L591.5 363.5 L593.2 362.9 L594.9 362.7 L596.5 363.2 L598.2 363.8 L599.9 362.8 L601.6 364.6 L603.2 366.1 L604.9 364.2 L606.6 365.1 L608.3 364.9 L609.9 366.9 L611.6 366.6 L613.3 368.2 L615.0 367.0 L616.7 365.9 L618.3 368.8 L620.0 368.1 L621.7 370.3 L623.4 370.1 L625.0 366.2 L626.7 367.4 L628.4 370.3 L630.1 369.6 L631.8 368.1 L633.4 370.6 L635.1 373.3 L636.8 372.8 L638.5 371.2 L640.1 373.1 L641.8 374.4 L643.5 373.2 L645.2 376.1 L646.8 373.2 L648.5 377.2 L650.2 376.8 L651.9 375.8 L653.6 375.8 L655.2 375.9 L656.9 375.0 L658.6 377.9 L660.3 378.6 L661.9 378.3 L663.6 378.0 L665.3 378.1 L667.0 377.1 L668.6 377.9 L670.3 377.2 L672.0 380.2 L673.7 378.8 L675.4 381.5 L677.0 379.9 L678.7 383.2 L680.4 383.8 L682.1 384.2 L683.7 384.1 L685.4 382.6 L687.1 383.0 L688.8 382.8 L690.4 384.7 L692.1 386.9 L693.8 383.5 L695.5 388.7 L697.2 385.0 L698.8 384.6 L700.5 387.0 L702.2 388.4 L703.9 386.8 L705.5 386.2 L707.2 390.4 L708.9 386.8 L710.6 390.1 L712.2 389.2 L713.9 388.8 L715.6 389.7 L717.3 388.5 L719.0 388.7 L720.6 391.0 L722.3 389.4 L724.0 390.1 L725.7 393.4 L727.3 394.2 L729.0 393.5 L730.7 393.4 L732.4 392.1 L734.0 392.8 L735.7 391.9 L737.4 389.3 L739.1 393.8 L740.8 394.2 L742.4 395.6 L744.1 392.8 L745.8 396.5 L747.5 394.5 L749.1 393.9 L750.8 395.7 L752.5 397.8 L754.2 396.8 L755.8 397.9 L757.5 396.3 L759.2 398.7 L760.9 399.8 L762.6 397.5 L764.2 399.7 L765.9 397.5 L767.6 400.1 L769.3 397.9 L770.9 400.9 L772.6 400.6 L774.3 399.2 L776.0 401.5 L777.6 399.7 L779.3 401.4 L781.0 400.1 L782.7 402.4 L784.4 401.0 L786.0 404.1 L787.7 402.8 L789.4 403.2 L791.1 400.7 L792.7 399.9 L794.4 402.2 L796.1 406.5 L797.8 402.8 L799.5 406.5 L801.1 407.1 L802.8 404.8 L804.5 405.9 L806.2 408.8 L807.8 407.0 L809.5 407.3 L811.2 407.6 L812.9 409.2 L814.5 409.5 L816.2 412.1 L817.9 411.1 L819.6 413.1 L821.3 411.6 L822.9 416.2 L824.6 412.6 L826.3 413.1 L828.0 412.6 L829.6 411.7 L831.3 413.5 L833.0 415.7 L834.7 414.3 L836.3 417.8 L838.0 414.4 L839.7 414.9 L841.4 418.6 L843.1 419.3 L844.7 417.4 L846.4 421.6 L848.1 422.7 L849.8 421.6 L851.4 419.5 L853.1 424.3 L854.8 422.4 L856.5 423.2 L858.1 424.9 L859.8 423.6 L861.5 427.9 L863.2 425.0 L864.9 428.6 L866.5 428.8 L868.2 431.3 L869.9 429.9 L871.6 431.3 L873.2 430.0 L874.9 431.1 L876.6 431.3 L878.3 434.5 L879.9 432.9 L881.6 437.5 L883.3 435.6 L885.0 434.6 L886.7 436.4 L888.3 440.4 L890.0 438.4 L891.7 441.2 L893.4 438.2 L895.0 442.6 L896.7 444.1 L898.4 444.5 L900.1 445.8 L901.7 443.5 L903.4 443.1 L905.1 444.6 L906.8 449.3 L908.5 449.3 L910.1 450.7 L911.8 448.9 L913.5 452.1 L915.2 448.4 L916.8 452.6 L918.5 450.6 L920.2 452.3 L921.9 455.0 L923.5 456.1 L925.2 454.8 L926.9 455.1 L928.6 459.1 L930.3 459.3 L931.9 456.9 L933.6 459.6 L935.3 459.5 L937.0 462.7 L938.6 462.7 L940.3 463.6 L942.0 463.9 L943.7 463.6 L945.3 467.8 L947.0 467.4 L948.7 462.9 L950.4 467.6 L952.1 469.7 L953.7 468.5 L955.4 468.9 L957.1 470.1 L958.8 472.6 L960.4 470.5 L962.1 473.5 L963.8 475.7 L965.5 475.1 L967.1 475.4 L968.8 473.2 L970.5 476.4 L972.2 474.5 L973.9 476.7 L975.5 473.3 L977.2 479.0 L978.9 475.9 L980.6 478.1 L982.2 481.2 L983.9 479.8 L985.6 479.7 L987.3 481.3 L989.0 484.9 L990.6 485.8 L992.3 485.6 L994.0 483.7 L995.7 484.8 L997.3 487.8 L999.0 488.7 L1000.7 486.2 L1002.4 486.9 L1004.0 490.6 L1005.7 492.0 L1007.4 490.4 L1009.1 488.2 L1010.8 494.9 L1012.4 492.0 L1014.1 493.6 L1015.8 488.2 L1017.5 491.9 L1019.1 493.7 L1020.8 495.3 L1022.5 493.0 L1024.2 492.0 L1025.8 492.3 L1027.5 495.6 L1029.2 497.6 L1030.9 498.0 L1032.6 493.9 L1034.2 496.8 L1035.9 498.7 L1037.6 501.8 L1039.3 501.3 L1040.9 501.1 L1042.6 497.1 L1044.3 504.2 L1046.0 501.9 L1047.6 503.2 L1049.3 501.7 L1051.0 503.4 L1052.7 503.7 L1054.4 504.2 L1056.0 503.7 L1057.7 508.1 L1059.4 509.5 L1061.1 506.8 L1062.7 507.0 L1064.4 508.0 L1066.1 510.2 L1067.8 515.3 L1069.4 512.4 L1071.1 518.1 L1072.8 511.2 L1074.5 512.3 L1076.2 513.5 L1077.8 513.6 L1079.5 516.9 L1081.2 520.6 L1082.9 514.6 L1084.5 517.4 L1086.2 520.0 L1087.9 522.8 L1089.6 517.4 L1091.2 519.5 L1092.9 520.7 L1094.6 517.9 L1096.3 519.6 L1098.0 518.0 L1099.6 517.6 L1101.3 519.6 L1103.0 525.3 L1104.7 527.1 L1106.3 525.1 L1108.0 522.2 L1109.7 528.9 L1111.4 526.1 L1113.0 530.4 L1114.7 527.0 L1116.4 524.0 L1118.1 526.5 L1119.8 525.7 L1121.4 531.8 L1123.1 522.0 L1124.8 526.6 L1126.5 527.7 L1128.1 523.6 L1129.8 530.3 L1131.5 531.4 L1133.2 532.6 L1134.8 533.2 L1136.5 531.4 L1138.2 534.9 L1139.9 532.0 L1141.6 534.0 L1143.2 535.2 L1144.9 535.6 L1146.6 537.5 L1148.3 535.1 L1149.9 537.2 L1151.6 536.7 L1153.3 539.0 L1155.0 540.3 L1156.7 538.1 L1158.3 544.5 L1160.0 546.3 L1161.7 543.3 L1163.4 542.7 L1165.0 541.4 L1166.7 543.1 L1168.4 543.4 L1170.1 546.3 L1171.7 544.8 L1173.4 546.9 L1175.1 546.7 L1176.8 544.1 L1178.5 542.0 L1180.1 542.5 L1181.8 542.9 L1183.5 545.9 L1185.2 549.4 L1186.8 544.3 L1188.5 549.0 L1190.2 547.3 L1191.9 551.7 L1193.5 554.9 L1195.2 552.4 L1196.9 551.2 L1198.6 552.2 L1200.3 555.0 L1201.9 551.4 L1203.6 550.8 L1205.3 553.8 L1207.0 558.1 L1208.6 552.6 L1210.3 557.8 L1212.0 557.6 L1213.7 555.1 L1215.3 554.0 L1217.0 552.1 L1218.7 553.7 L1220.4 557.4 L1222.1 559.2 L1223.7 555.8 L1225.4 556.2 L1227.1 555.9 L1228.8 564.5 L1230.4 554.6 L1232.1 554.5 L1233.8 561.4 L1235.5 555.8 L1237.1 561.5 L1238.8 556.9 L1240.5 562.1 L1242.2 563.3 L1243.9 558.7 L1245.5 560.3 L1247.2 558.1 L1248.9 563.5 L1250.6 560.8 L1252.2 559.5 L1253.9 563.7 L1255.6 564.1 L1257.3 563.5 L1258.9 563.0 L1260.6 567.3 L1262.3 563.7 L1264.0 563.8 L1265.7 566.2 L1267.3 569.0 L1269.0 567.4 L1270.7 567.5 L1272.4 567.2 L1274.0 568.4 L1275.7 569.3 L1277.4 576.6 L1279.1 566.7 L1280.7 570.2 L1282.4 571.5 L1284.1 568.8 L1285.8 567.9 L1287.5 572.6 L1289.1 575.0 L1290.8 574.6 L1292.5 572.1 L1294.2 571.4 L1295.8 574.9 L1297.5 569.3 L1299.2 572.0 L1300.9 578.7 L1302.5 576.5 L1304.2 576.2 L1305.9 575.8 L1307.6 575.7 L1309.3 575.0 L1310.9 579.2 L1312.6 579.5 L1314.3 579.8 L1316.0 572.1 L1317.6 582.3 L1319.3 581.2 L1321.0 583.2 L1322.7 577.4 L1324.4 572.9 L1326.0 575.2 L1327.7 576.3 L1329.4 584.1 L1331.1 576.6 L1332.7 577.5 L1334.4 581.5 L1336.1 581.5 L1337.8 581.9 L1339.4 578.2 L1341.1 584.9 L1342.8 581.2 L1344.5 578.1 L1346.2 581.9 L1347.8 577.2 L1349.5 578.0 L1351.2 579.9 L1352.9 578.9 L1354.5 581.2 L1356.2 581.1 L1357.9 582.0 L1359.6 581.2 L1361.2 587.1 L1362.9 581.6 L1364.6 583.3 L1366.3 582.7 L1368.0 584.0 L1369.6 582.5 L1371.3 592.4 L1373.0 586.3 L1374.7 589.9 L1376.3 587.2 L1378.0 585.1 L1379.7 588.0 L1381.4 588.1 L1383.0 587.3 L1384.7 591.6 L1386.4 596.4 L1388.1 593.1 L1389.8 595.9 L1391.4 597.2 L1393.1 588.7 L1394.8 599.8 L1396.5 591.2 L1398.1 600.4 L1399.8 596.1 L1401.5 597.5 L1403.2 602.3 L1404.8 599.3 L1406.5 592.0 L1408.2 591.6 L1409.9 593.4 L1411.6 599.7 L1413.2 597.6 L1414.9 599.0 L1416.6 597.4 L1418.3 599.2 L1419.9 592.4 L1421.6 589.8 L1423.3 592.6 L1425.0 596.7 L1426.6 591.4 L1428.3 587.7 L1430.0 592.9 L1431.7 596.6 L1433.4 596.1 L1435.0 594.2 L1436.7 594.1 L1438.4 589.9 L1440.1 596.1 L1441.7 601.9 L1443.4 595.5 L1445.1 601.9 L1446.8 594.1 L1448.4 596.7 L1450.1 596.8 L1451.8 598.4 L1453.5 593.6 L1455.2 602.4 L1456.8 598.3 L1458.5 593.3 L1460.2 601.6 L1461.9 600.4 L1463.5 596.6 L1465.2 600.2 L1466.9 603.2 L1468.6 603.2 L1470.2 602.4 L1471.9 599.8 L1473.6 602.9 L1475.3 606.1 L1477.0 608.9 L1478.6 604.8 L1480.3 605.6 L1482.0 606.4 L1483.7 603.2 L1485.3 599.2 L1487.0 602.9 L1488.7 604.3 L1490.4 605.7 L1492.1 605.3 L1493.7 603.3 L1495.4 604.0 L1497.1 605.1 L1498.8 603.4 L1500.4 603.6 L1502.1 601.2 L1503.8 605.3 L1505.5 606.7 L1507.1 604.5 L1508.8 605.7 L1510.5 606.8 L1512.2 603.4 L1513.9 604.7 L1515.5 603.9 L1517.2 607.9 L1518.9 603.4 L1520.6 606.8 L1522.2 600.9 L1523.9 611.9 L1525.6 608.6 L1527.3 604.8 L1528.9 607.2 L1530.6 613.1 L1532.3 608.3 L1534.0 604.1 L1535.7 608.7 L1537.3 608.0 L1539.0 611.5 L1540.7 611.2 L1542.4 606.7 L1544.0 612.7 L1545.7 615.4 L1547.4 617.1 L1549.1 614.6 L1550.7 619.3 L1552.4 618.4 L1554.1 616.8 L1555.8 619.3 L1557.5 607.7 L1559.1 618.9 L1560.8 619.7 L1562.5 615.3 L1564.2 618.2 L1565.8 614.1 L1567.5 615.7 L1569.2 615.8 L1570.9 613.4 L1572.5 615.9 L1574.2 611.5 L1575.9 616.4 L1577.6 621.9 L1579.3 622.5 L1580.9 617.0 L1582.6 622.3 L1584.3 618.5 L1586.0 613.7 L1587.6 615.8 L1589.3 617.7 L1591.0 618.1 L1592.7 620.4 L1594.3 616.9 L1596.0 618.2 L1597.7 622.9 L1599.4 620.5 L1601.1 621.6 L1602.7 620.3 L1604.4 622.4 L1606.1 622.5 L1607.8 617.8 L1609.4 623.1 L1611.1 617.7 L1612.8 620.4 L1614.5 618.4 L1616.1 621.2 L1617.8 620.1 L1619.5 621.4 L1621.2 620.6 L1622.9 620.5 L1624.5 622.1 L1626.2 622.2 L1627.9 620.5 L1629.6 618.9 L1631.2 625.5 L1632.9 628.1 L1634.6 621.8 L1636.3 626.2 L1638.0 623.1 L1639.6 625.6 L1641.3 627.8 L1643.0 626.3 L1644.7 624.6 L1646.3 619.7 L1648.0 624.8 L1649.7 625.4 L1651.4 629.2 L1653.0 623.5 L1654.7 625.3 L1656.4 626.3 L1658.1 629.5 L1659.8 622.3 L1661.4 628.4 L1663.1 625.8 L1664.8 624.2 L1666.5 622.3 L1668.1 623.6 L1669.8 629.0 L1671.5 625.2 L1673.2 624.1 L1674.8 625.8 L1676.5 630.9 L1678.2 630.0 L1679.9 629.6 L1681.6 630.1 L1683.2 629.5 L1684.9 626.0 L1686.6 624.0 L1688.3 630.9 L1689.9 626.9 L1691.6 627.6 L1693.3 625.9 L1695.0 628.7 L1696.6 631.1 L1698.3 626.0 L1700.0 627.6 L1701.7 627.4 L1703.4 629.1 L1705.0 627.1 L1706.7 627.2 L1708.4 625.3 L1710.1 627.2 L1711.7 624.9 L1713.4 629.1 L1715.1 626.6 L1716.8 631.8 L1718.4 625.0 L1720.1 624.0 L1721.8 629.8 L1723.5 629.1 L1725.2 623.4 L1726.8 635.3 L1728.5 627.4 L1730.2 631.5 L1731.9 627.4 L1733.5 631.0 L1735.2 632.6 L1736.9 628.2 L1738.6 631.1 L1740.2 632.9 L1741.9 636.7 L1743.6 633.9 L1745.3 635.4 L1747.0 633.2 L1748.6 633.7 L1750.3 633.5 L1752.0 631.4 L1753.7 626.7 L1755.3 627.3 L1757.0 633.3 L1758.7 633.8 L1760.4 632.7 L1762.0 630.8 L1763.7 631.1 L1765.4 628.8 L1767.1 636.0 L1768.8 627.6 L1770.4 637.3 L1772.1 631.1 L1773.8 639.9 L1775.5 633.8 L1777.1 631.4 L1778.8 632.7 L1780.5 631.0 L1782.2 637.0 L1783.8 632.8 L1785.5 634.0 L1787.2 631.3 L1788.9 636.2 L1790.6 630.3 L1792.2 633.0 L1793.9 638.8 L1795.6 629.0 L1797.3 636.1 L1798.9 638.7 L1800.6 635.6 L1802.3 639.6 L1804.0 638.9 L1805.7 636.6 L1807.3 630.4 L1809.0 633.7 L1810.7 634.1 L1812.4 637.9 L1814.0 634.6 L1815.7 633.9 L1817.4 630.8 L1819.1 633.8 L1820.7 634.8 L1822.4 626.7 L1824.1 633.5 L1825.8 634.7 L1827.5 632.7 L1829.1 633.0 L1830.8 632.0 L1832.5 636.5 L1834.2 632.6 L1835.8 638.1 L1837.5 636.0 L1839.2 629.6 L1840.9 634.8 L1842.5 636.6 L1844.2 638.4 L1845.9 636.3 L1847.6 635.4 L1849.3 638.0 L1850.9 640.0 L1852.6 629.7 L1854.3 632.8 L1856.0 639.4 L1857.6 634.9 L1859.3 630.9 L1861.0 638.7 L1862.7 639.4 L1864.3 632.9 L1866.0 635.9 L1867.7 633.9 L1869.4 635.1 L1871.1 637.2 L1872.7 633.8 L1874.4 634.7 L1876.1 634.3 L1877.8 630.4 L1879.4 637.1 L1881.1 638.4 L1882.8 636.5 L1884.5 636.1 L1886.1 638.1 L1887.8 633.2 L1889.5 631.6" fill="none" stroke="#ff0000" stroke-width="6.4" stroke-linejoin="round" stroke-dasharray="20.3 20.3"/>
<path d="M212.5 157.3 L268.5 157.3 L268.6 166.0 L268.6 177.8 L268.7 192.0 L268.9 207.5 L269.1 223.7 L269.5 239.7 L270.0 256.4 L270.7 274.6 L271.5 293.5 L272.4 312.0 L273.2 329.3 L274.0 344.4 L274.8 357.6 L275.6 369.5 L276.4 380.3 L277.1 389.7 L277.8 397.7 L278.4 404.2 L278.8 409.4 L279.0 413.3 L279.2 415.8 L279.4 416.7 L279.6 415.9 L280.0 413.2 L280.6 407.7 L281.2 399.4 L281.9 389.4 L282.7 378.7 L283.5 368.3 L284.4 359.3 L285.3 351.2 L286.4 343.1 L287.5 335.4 L288.6 328.3 L289.6 322.3 L290.4 317.5 L291.1 314.2 L291.6 312.0 L292.0 310.8 L292.4 310.4 L292.8 310.7 L293.4 311.5 L294.0 312.6 L294.7 314.1 L295.5 316.3 L296.2 319.4 L297.0 323.7 L297.9 329.4 L298.8 336.9 L299.8 346.2 L300.8 356.7 L301.9 367.7 L302.9 378.7 L303.9 389.2 L304.9 399.2 L305.9 409.1 L306.9 419.1 L307.9 429.1 L308.9 439.0 L309.8 449.0 L310.6 459.5 L311.5 470.7 L312.2 481.9 L313.0 492.5 L313.7 501.7 L314.3 508.9 L314.9 514.2 L315.4 518.2 L315.8 520.8 L316.2 522.2 L316.7 522.1 L317.3 520.8 L317.9 517.6 L318.5 512.4 L319.2 505.8 L319.9 498.6 L320.8 491.4 L321.8 484.9 L323.1 478.7 L324.5 472.1 L326.1 465.6 L327.7 459.4 L329.3 453.7 L330.8 449.0 L332.2 445.1 L333.6 441.8 L335.0 439.2 L336.3 437.1 L337.6 435.5 L338.8 434.5 L339.9 434.2 L341.0 434.7 L342.0 435.8 L343.0 437.2 L344.0 438.6 L345.0 440.0 L346.1 441.2 L347.3 442.4 L348.4 443.7 L349.6 445.1 L350.7 446.9 L351.7 449.0 L352.4 450.9 L352.9 452.4 L353.4 454.1 L354.0 456.8 L354.9 461.2 L356.4 468.0 L358.6 477.3 L361.5 488.5 L364.7 501.5 L368.0 515.8 L371.2 531.2 L374.0 547.4 L376.5 565.0 L378.9 584.4 L381.2 604.9 L383.4 625.8 L385.4 646.5 L387.3 666.3 L389.1 686.3 L390.7 707.3 L392.3 728.0 L393.7 747.3 L394.9 763.8 L396.0 776.5 L396.9 784.2 L397.5 787.6 L398.0 788.3 L398.5 787.9 L398.9 787.9 L399.5 790.0 L400.2 794.1 L400.9 798.9 L401.7 804.1 L402.5 809.5 L403.2 814.9 L404.0 819.9 L404.8 824.9 L405.6 830.1 L406.5 835.2 L407.3 839.9 L407.9 843.9 L408.4 846.8 L408.7 847.8 L410.4 851.1 L412.1 853.2 L413.7 857.9 L415.4 861.5 L417.1 863.6 L418.8 864.8 L420.4 865.2 L422.1 873.3 L423.8 871.9 L425.5 877.3 L427.2 873.2 L428.8 867.7 L430.5 875.7 L432.2 877.0 L433.9 878.6 L435.5 870.8 L437.2 872.8 L438.9 870.8 L440.6 878.2 L442.2 877.1 L443.9 869.0 L445.6 866.1 L447.3 873.7 L449.0 854.6 L450.6 866.6 L452.3 857.3 L454.0 864.2 L455.7 874.0 L457.3 868.8 L459.0 870.1 L460.7 875.7 L462.4 875.7 L464.1 876.0 L465.7 883.9 L467.4 894.1 L469.1 887.6 L470.8 886.5 L472.4 887.5 L474.1 891.2 L475.8 892.6 L477.5 884.7 L479.1 895.8 L480.8 891.2 L482.5 903.8 L484.2 891.1 L485.9 897.9 L487.5 884.3 L489.2 898.1 L490.9 892.4 L492.6 891.3 L494.2 908.2 L495.9 901.8 L497.6 909.9 L499.3 908.1 L500.9 912.0 L502.6 915.6 L504.3 904.6 L506.0 928.2 L507.7 917.7 L509.3 940.2 L511.0 930.5 L512.7 930.6 L514.4 908.9 L516.0 941.4 L517.7 926.9 L519.4 917.2 L521.1 934.3 L522.7 939.8 L524.4 918.5 L526.1 941.3 L527.8 933.8 L529.5 930.6 L531.1 933.2 L532.8 934.4 L534.5 940.5 L536.2 939.7 L537.8 944.1 L539.5 955.0 L541.2 939.4 L542.9 952.9 L544.5 927.8 L546.2 949.2 L547.9 933.0 L549.6 942.0 L551.3 956.2 L552.9 946.3 L554.6 968.5 L556.3 942.1 L558.0 952.2 L559.6 965.5 L561.3 978.5 L563.0 954.8 L564.7 991.5 L566.3 978.6 L568.0 1002.0 L569.7 978.0 L571.4 975.9 L573.1 983.2 L574.7 969.6 L576.4 984.8 L578.1 976.7 L579.8 1000.2 L581.4 991.6 L583.1 978.0 L584.8 977.7 L586.5 975.7 L588.1 963.7 L589.8 966.1 L591.5 1010.1 L593.2 987.1 L594.9 1005.2 L596.5 992.8 L598.2 995.8 L599.9 982.3 L601.6 1008.5 L603.2 990.3 L604.9 1013.8 L606.6 995.2 L608.3 1024.9 L609.9 1030.2 L611.6 977.7 L613.3 1002.7 L615.0 981.1 L616.7 983.1 L618.3 998.0 L620.0 1000.6 L621.7 1006.8 L623.4 996.0 L625.0 1012.5 L626.7 1006.1 L628.4 1002.5 L630.1 987.9 L631.8 1005.9 L633.4 1045.9 L635.1 1000.0 L636.8 998.2 L638.5 995.6 L640.1 1022.2 L641.8 1023.0 L643.5 1017.4 L645.2 1030.4 L646.8 1011.3 L648.5 1030.4 L650.2 1000.8 L651.9 1028.6 L653.6 1027.5 L655.2 1013.8 L656.9 1033.3 L658.6 1013.2 L660.3 1002.2 L661.9 1002.9 L663.6 1004.4 L665.3 1008.8 L667.0 1020.2 L668.6 1049.3 L670.3 1020.8 L672.0 1008.9 L673.7 1022.6 L675.4 1010.5 L677.0 1021.2 L678.7 1021.9 L680.4 1023.9 L682.1 1014.0 L683.7 1024.1 L685.4 1029.5 L687.1 1012.4 L688.8 1009.0 L690.4 1020.5 L692.1 1023.2 L693.8 1015.9 L695.5 1020.9 L697.2 1015.0 L698.8 992.8 L700.5 1027.0 L702.2 1006.7 L703.9 1056.3 L705.5 1025.2 L707.2 1022.4 L708.9 1033.4 L710.6 1042.7 L712.2 1045.6 L713.9 1028.3 L715.6 1034.4 L717.3 1029.1 L719.0 1028.5 L720.6 1008.6 L722.3 1022.5 L724.0 988.9 L725.7 1017.3 L727.3 1046.9 L729.0 1027.3 L730.7 1020.5 L732.4 1014.8 L734.0 1025.5 L735.7 1023.6 L737.4 1008.7 L739.1 994.1 L740.8 1046.6 L742.4 1043.7 L744.1 1015.3 L745.8 1037.2 L747.5 1009.0 L749.1 1043.6 L750.8 1016.9 L752.5 1045.7 L754.2 1037.7 L755.8 1015.7 L757.5 1029.9 L759.2 1050.1 L760.9 1027.1 L762.6 1026.4 L764.2 1037.3 L765.9 1033.7 L767.6 1052.0 L769.3 1054.7 L770.9 1012.1 L772.6 1068.8 L774.3 1040.3 L776.0 1065.9 L777.6 1055.7 L779.3 1060.1 L781.0 1034.9 L782.7 1022.2 L784.4 1051.3 L786.0 1052.1 L787.7 1060.0 L789.4 1066.8 L791.1 1053.4 L792.7 1058.7 L794.4 1038.1 L796.1 1043.6 L797.8 1026.7 L799.5 1035.6 L801.1 1029.1 L802.8 1036.7 L804.5 1052.9 L806.2 1047.7 L807.8 1010.5 L809.5 1072.6 L811.2 1054.5 L812.9 1062.2 L814.5 1043.1 L816.2 1059.2 L817.9 1100.0 L819.6 1023.1 L821.3 1057.2 L822.9 1030.8 L824.6 1035.9 L826.3 1043.7 L828.0 1071.6 L829.6 1021.0 L831.3 1046.7 L833.0 1062.2 L834.7 1118.0 L836.3 1058.8 L838.0 1063.5 L839.7 1037.9 L841.4 1063.1 L843.1 1065.1 L844.7 1035.3 L846.4 1035.7 L848.1 1057.4 L849.8 1050.8 L851.4 1055.0 L853.1 1038.5 L854.8 1059.1 L856.5 1052.8 L858.1 1075.9 L859.8 1058.7 L861.5 1049.5 L863.2 1049.4 L864.9 1045.5 L866.5 1066.2 L868.2 1025.8 L869.9 1050.8 L871.6 1063.1 L873.2 1079.9 L874.9 1058.5 L876.6 1068.4 L878.3 1048.8 L879.9 1095.0 L881.6 1030.1 L883.3 1037.2 L885.0 1044.6 L886.7 1047.1 L888.3 1044.2 L890.0 1069.3 L891.7 1011.4 L893.4 1034.4 L895.0 1077.8 L896.7 1054.2 L898.4 1047.6 L900.1 1055.1 L901.7 1072.9 L903.4 1073.6 L905.1 1060.1 L906.8 1029.1 L908.5 1050.2 L910.1 1047.6 L911.8 1047.1 L913.5 1027.8 L915.2 1058.1 L916.8 1069.6 L918.5 1031.0 L920.2 1055.0 L921.9 1069.7 L923.5 1056.9 L925.2 1040.0 L926.9 1043.8 L928.6 1027.2 L930.3 1035.5 L931.9 1017.4 L933.6 1033.5 L935.3 1019.1 L937.0 1011.9 L938.6 1042.9 L940.3 995.2 L942.0 1049.1 L943.7 997.4 L945.3 1034.6 L947.0 1027.7 L948.7 1005.6 L950.4 1024.2 L952.1 1016.5 L953.7 1011.1 L955.4 1035.8 L957.1 1014.2 L958.8 1004.8 L960.4 1038.8 L962.1 1035.7 L963.8 1024.6 L965.5 1020.6 L967.1 1025.4 L968.8 1026.6 L970.5 1024.1 L972.2 1017.2 L973.9 1039.5 L975.5 1041.0 L977.2 1032.4 L978.9 1062.1 L980.6 1029.7 L982.2 1030.0 L983.9 1045.9 L985.6 1030.3 L987.3 1029.8 L989.0 1019.3 L990.6 1022.3 L992.3 1005.4 L994.0 1026.3 L995.7 1016.3 L997.3 994.1 L999.0 1037.3 L1000.7 1011.5 L1002.4 1009.8 L1004.0 1033.8 L1005.7 1011.1 L1007.4 1038.2 L1009.1 1032.4 L1010.8 997.2 L1012.4 1027.2 L1014.1 1026.9 L1015.8 1036.5 L1017.5 1022.2 L1019.1 1011.6 L1020.8 1005.9 L1022.5 1012.1 L1024.2 1013.3 L1025.8 1035.3 L1027.5 1031.7 L1029.2 1024.2 L1030.9 1042.5 L1032.6 994.4 L1034.2 1006.4 L1035.9 1011.2 L1037.6 1025.5 L1039.3 996.0 L1040.9 1012.8 L1042.6 1041.1 L1044.3 1037.1 L1046.0 1036.5 L1047.6 1009.6 L1049.3 1004.3 L1051.0 1035.6 L1052.7 1016.0 L1054.4 1019.9 L1056.0 1022.4 L1057.7 1025.7 L1059.4 1035.4 L1061.1 1041.4 L1062.7 1036.9 L1064.4 1017.9 L1066.1 1021.2 L1067.8 992.4 L1069.4 992.0 L1071.1 981.4 L1072.8 1001.1 L1074.5 1017.4 L1076.2 1008.1 L1077.8 992.7 L1079.5 999.1 L1081.2 985.7 L1082.9 1018.6 L1084.5 989.8 L1086.2 974.4 L1087.9 991.0 L1089.6 981.4 L1091.2 989.7 L1092.9 1012.6 L1094.6 978.2 L1096.3 989.8 L1098.0 987.4 L1099.6 991.9 L1101.3 1018.1 L1103.0 1002.2 L1104.7 998.3 L1106.3 947.7 L1108.0 989.8 L1109.7 982.0 L1111.4 983.6 L1113.0 980.1 L1114.7 970.6 L1116.4 996.0 L1118.1 988.0 L1119.8 976.0 L1121.4 976.4 L1123.1 978.4 L1124.8 988.6 L1126.5 1000.4 L1128.1 987.3 L1129.8 985.6 L1131.5 977.7 L1133.2 994.3 L1134.8 981.2 L1136.5 986.6 L1138.2 987.2 L1139.9 990.5 L1141.6 994.8 L1143.2 1019.3 L1144.9 994.1 L1146.6 1018.8 L1148.3 1015.2 L1149.9 995.7 L1151.6 1000.8 L1153.3 1009.9 L1155.0 985.7 L1156.7 1000.1 L1158.3 1003.3 L1160.0 997.7 L1161.7 1022.7 L1163.4 1016.1 L1165.0 994.6 L1166.7 1010.2 L1168.4 989.1 L1170.1 991.3 L1171.7 985.7 L1173.4 1007.1 L1175.1 1007.7 L1176.8 997.3 L1178.5 1004.4 L1180.1 1009.1 L1181.8 1004.2 L1183.5 1006.0 L1185.2 1009.3 L1186.8 984.2 L1188.5 997.5 L1190.2 1018.6 L1191.9 1008.6 L1193.5 984.6 L1195.2 1021.1 L1196.9 994.8 L1198.6 1019.7 L1200.3 1008.9 L1201.9 1006.5 L1203.6 971.5 L1205.3 981.8 L1207.0 977.1 L1208.6 976.0 L1210.3 976.9 L1212.0 971.6 L1213.7 982.6 L1215.3 982.4 L1217.0 981.7 L1218.7 985.8 L1220.4 955.4 L1222.1 976.9 L1223.7 970.5 L1225.4 979.3 L1227.1 987.4 L1228.8 966.7 L1230.4 982.2 L1232.1 992.1 L1233.8 994.1 L1235.5 974.0 L1237.1 986.7 L1238.8 984.8 L1240.5 987.1 L1242.2 982.2 L1243.9 987.3 L1245.5 999.9 L1247.2 986.2 L1248.9 994.0 L1250.6 973.0 L1252.2 978.3 L1253.9 995.5 L1255.6 992.2 L1257.3 990.0 L1258.9 998.9 L1260.6 1001.3 L1262.3 992.0 L1264.0 1015.0 L1265.7 989.2 L1267.3 980.6 L1269.0 993.5 L1270.7 970.2 L1272.4 992.6 L1274.0 961.6 L1275.7 976.8 L1277.4 986.6 L1279.1 987.7 L1280.7 1013.4 L1282.4 975.0 L1284.1 996.3 L1285.8 1001.5 L1287.5 990.8 L1289.1 998.9 L1290.8 974.9 L1292.5 980.4 L1294.2 971.9 L1295.8 997.1 L1297.5 998.4 L1299.2 993.8 L1300.9 989.5 L1302.5 975.5 L1304.2 995.4 L1305.9 987.0 L1307.6 993.7 L1309.3 986.0 L1310.9 972.7 L1312.6 978.8 L1314.3 1006.9 L1316.0 974.5 L1317.6 968.1 L1319.3 992.9 L1321.0 1002.6 L1322.7 987.2 L1324.4 974.7 L1326.0 1019.0 L1327.7 988.2 L1329.4 1005.6 L1331.1 1010.0 L1332.7 994.6 L1334.4 1001.2 L1336.1 1006.8 L1337.8 974.7 L1339.4 998.4 L1341.1 1005.6 L1342.8 998.3 L1344.5 975.5 L1346.2 980.7 L1347.8 980.5 L1349.5 980.4 L1351.2 978.5 L1352.9 988.9 L1354.5 991.8 L1356.2 1047.0 L1357.9 970.4 L1359.6 992.4 L1361.2 1003.8 L1362.9 1017.7 L1364.6 988.1 L1366.3 973.4 L1368.0 985.5 L1369.6 992.0 L1371.3 1003.9 L1373.0 1003.6 L1374.7 998.9 L1376.3 999.9 L1378.0 1019.7 L1379.7 984.1 L1381.4 995.2 L1383.0 997.0 L1384.7 983.9 L1386.4 982.1 L1388.1 996.4 L1389.8 975.9 L1391.4 977.8 L1393.1 986.7 L1394.8 1021.3 L1396.5 1002.5 L1398.1 993.9 L1399.8 998.1 L1401.5 971.1 L1403.2 993.6 L1404.8 975.8 L1406.5 1001.8 L1408.2 988.8 L1409.9 970.6 L1411.6 1003.0 L1413.2 1002.1 L1414.9 999.6 L1416.6 996.5 L1418.3 970.5 L1419.9 1002.1 L1421.6 963.1 L1423.3 984.9 L1425.0 1016.7 L1426.6 974.7 L1428.3 977.9 L1430.0 990.1 L1431.7 999.2 L1433.4 995.0 L1435.0 1010.1 L1436.7 1002.8 L1438.4 981.4 L1440.1 1011.5 L1441.7 983.1 L1443.4 990.3 L1445.1 1003.9 L1446.8 988.1 L1448.4 1007.5 L1450.1 965.5 L1451.8 977.3 L1453.5 988.6 L1455.2 963.4 L1456.8 1001.0 L1458.5 991.7 L1460.2 987.3 L1461.9 990.3 L1463.5 982.4 L1465.2 974.7 L1466.9 981.1 L1468.6 977.9 L1470.2 979.2 L1471.9 977.7 L1473.6 975.2 L1475.3 967.5 L1477.0 972.0 L1478.6 994.1 L1480.3 1000.5 L1482.0 963.5 L1483.7 980.7 L1485.3 993.9 L1487.0 967.2 L1488.7 974.1 L1490.4 983.8 L1492.1 985.2 L1493.7 983.9 L1495.4 969.1 L1497.1 1004.1 L1498.8 986.9 L1500.4 979.2 L1502.1 1007.3 L1503.8 986.4 L1505.5 996.4 L1507.1 975.1 L1508.8 989.3 L1510.5 1005.4 L1512.2 1003.3 L1513.9 1003.2 L1515.5 1002.0 L1517.2 1007.2 L1518.9 987.3 L1520.6 990.0 L1522.2 976.6 L1523.9 993.9 L1525.6 985.0 L1527.3 996.5 L1528.9 980.6 L1530.6 1004.0 L1532.3 971.3 L1534.0 1002.6 L1535.7 983.7 L1537.3 1000.0 L1539.0 1000.1 L1540.7 969.3 L1542.4 998.2 L1544.0 978.8 L1545.7 994.7 L1547.4 985.0 L1549.1 984.9 L1550.7 981.5 L1552.4 979.6 L1554.1 984.9 L1555.8 950.8 L1557.5 992.9 L1559.1 977.8 L1560.8 975.4 L1562.5 961.7 L1564.2 981.1 L1565.8 978.1 L1567.5 1003.5 L1569.2 976.1 L1570.9 1005.7 L1572.5 980.3 L1574.2 990.3 L1575.9 986.6 L1577.6 977.2 L1579.3 955.6 L1580.9 992.3 L1582.6 966.3 L1584.3 981.7 L1586.0 1016.6 L1587.6 1014.1 L1589.3 1001.8 L1591.0 978.7 L1592.7 990.4 L1594.3 993.4 L1596.0 983.9 L1597.7 1009.2 L1599.4 992.0 L1601.1 995.9 L1602.7 989.5 L1604.4 970.1 L1606.1 973.7 L1607.8 975.5 L1609.4 1003.7 L1611.1 985.8 L1612.8 987.4 L1614.5 988.1 L1616.1 990.9 L1617.8 1016.9 L1619.5 1008.3 L1621.2 989.5 L1622.9 989.8 L1624.5 1009.3 L1626.2 978.3 L1627.9 1012.4 L1629.6 999.0 L1631.2 1002.9 L1632.9 1003.6 L1634.6 1000.4 L1636.3 995.3 L1638.0 957.6 L1639.6 982.5 L1641.3 981.5 L1643.0 980.6 L1644.7 975.8 L1646.3 1010.5 L1648.0 993.0 L1649.7 999.0 L1651.4 1013.6 L1653.0 982.0 L1654.7 985.6 L1656.4 1003.9 L1658.1 987.1 L1659.8 985.7 L1661.4 972.9 L1663.1 1011.6 L1664.8 988.5 L1666.5 975.5 L1668.1 1003.9 L1669.8 979.9 L1671.5 991.2 L1673.2 987.0 L1674.8 1005.3 L1676.5 1009.7 L1678.2 999.1 L1679.9 997.7 L1681.6 1019.1 L1683.2 1000.9 L1684.9 986.3 L1686.6 1009.3 L1688.3 986.1 L1689.9 997.5 L1691.6 978.5 L1693.3 980.0 L1695.0 987.9 L1696.6 997.9 L1698.3 1003.4 L1700.0 985.4 L1701.7 1003.4 L1703.4 995.4 L1705.0 1002.2 L1706.7 972.9 L1708.4 995.3 L1710.1 988.2 L1711.7 995.3 L1713.4 1021.3 L1715.1 989.6 L1716.8 1009.9 L1718.4 1005.2 L1720.1 977.2 L1721.8 1001.0 L1723.5 1019.7 L1725.2 982.5 L1726.8 988.2 L1728.5 1033.4 L1730.2 995.6 L1731.9 992.4 L1733.5 996.8 L1735.2 988.2 L1736.9 999.0 L1738.6 999.9 L1740.2 993.6 L1741.9 1025.0 L1743.6 1019.2 L1745.3 1011.0 L1747.0 985.7 L1748.6 993.7 L1750.3 987.0 L1752.0 1004.3 L1753.7 989.5 L1755.3 994.1 L1757.0 997.9 L1758.7 997.8 L1760.4 995.6 L1762.0 983.5 L1763.7 1015.7 L1765.4 1002.0 L1767.1 988.6 L1768.8 1011.4 L1770.4 992.7 L1772.1 1026.8 L1773.8 1019.2 L1775.5 1017.5 L1777.1 1035.8 L1778.8 1002.7 L1780.5 1015.0 L1782.2 1010.4 L1783.8 1001.0 L1785.5 996.1 L1787.2 1024.3 L1788.9 1005.7 L1790.6 1005.3 L1792.2 1003.5 L1793.9 1049.5 L1795.6 1010.4 L1797.3 1005.5 L1798.9 1010.5 L1800.6 1029.6 L1802.3 1024.2 L1804.0 1025.7 L1805.7 1014.9 L1807.3 1005.7 L1809.0 1002.6 L1810.7 1022.1 L1812.4 997.9 L1814.0 1003.5 L1815.7 965.4 L1817.4 1015.6 L1819.1 1017.8 L1820.7 990.1 L1822.4 1003.0 L1824.1 988.1 L1825.8 999.1 L1827.5 1009.5 L1829.1 979.7 L1830.8 1011.9 L1832.5 1008.7 L1834.2 996.0 L1835.8 987.9 L1837.5 1002.6 L1839.2 998.4 L1840.9 1005.4 L1842.5 999.5 L1844.2 997.0 L1845.9 1004.8 L1847.6 1003.1 L1849.3 997.0 L1850.9 987.0 L1852.6 991.0 L1854.3 979.1 L1856.0 986.6 L1857.6 990.5 L1859.3 1007.0 L1861.0 990.3 L1862.7 994.6 L1864.3 969.3 L1866.0 1006.2 L1867.7 996.7 L1869.4 1010.2 L1871.1 1001.6 L1872.7 986.5 L1874.4 995.1 L1876.1 971.4 L1877.8 989.6 L1879.4 1019.2 L1881.1 985.1 L1882.8 1010.9 L1884.5 1009.3 L1886.1 998.4 L1887.8 1018.2 L1889.5 997.3" fill="none" stroke="#ff00ff" stroke-width="6.4" stroke-linejoin="round" stroke-dasharray="5.1 5.1"/>
<rect x="212.5" y="32.5" width="1677.0" height="1212.9" fill="none" stroke="#a3a3a3" stroke-width="2.8"/>
<path d="M212.5 1245.4v-17.5M212.5 32.5v17.5M547.9 1245.4v-17.5M547.9 32.5v17.5M883.3 1245.4v-17.5M883.3 32.5v17.5M1218.7 1245.4v-17.5M1218.7 32.5v17.5M1554.1 1245.4v-17.5M1554.1 32.5v17.5M1889.5 1245.4v-17.5M1889.5 32.5v17.5" stroke="#a3a3a3" stroke-width="2.8" fill="none"/>
<path d="M212.5 1208.9h17.5M1889.5 1208.9h-17.5M212.5 590.4h17.5M1889.5 590.4h-17.5M212.5 1237.2h9.5M1889.5 1237.2h-9.5M212.5 1022.7h9.5M1889.5 1022.7h-9.5M212.5 913.8h9.5M1889.5 913.8h-9.5M212.5 836.5h9.5M1889.5 836.5h-9.5M212.5 776.6h9.5M1889.5 776.6h-9.5M212.5 727.6h9.5M1889.5 727.6h-9.5M212.5 686.2h9.5M1889.5 686.2h-9.5M212.5 650.3h9.5M1889.5 650.3h-9.5M212.5 618.7h9.5M1889.5 618.7h-9.5M212.5 404.2h9.5M1889.5 404.2h-9.5M212.5 295.3h9.5M1889.5 295.3h-9.5M212.5 218.0h9.5M1889.5 218.0h-9.5M212.5 158.1h9.5M1889.5 158.1h-9.5M212.5 109.1h9.5M1889.5 109.1h-9.5M212.5 67.7h9.5M1889.5 67.7h-9.5M212.5 31.8h9.5M1889.5 31.8h-9.5" stroke="#3c3c3c" stroke-width="2" fill="none"/>
<path d="M212.5 1245.4v-17.5M212.5 32.5v17.5M1889.5 1245.4v-17.5M1889.5 32.5v17.5" stroke="#666" stroke-width="2.8" fill="none"/>
<text x="213.0" y="1310" font-family="Liberation Sans, Arial, sans-serif" font-size="52.5" fill="#262626" text-anchor="middle">0</text>
<text x="548.4" y="1310" font-family="Liberation Sans, Arial, sans-serif" font-size="52.5" fill="#262626" text-anchor="middle">200</text>
<text x="883.8" y="1310" font-family="Liberation Sans, Arial, sans-serif" font-size="52.5" fill="#262626" text-anchor="middle">400</text>
<text x="1219.2" y="1310" font-family="Liberation Sans, Arial, sans-serif" font-size="52.5" fill="#262626" text-anchor="middle">600</text>
<text x="1554.6" y="1310" font-family="Liberation Sans, Arial, sans-serif" font-size="52.5" fill="#262626" text-anchor="middle">800</text>
<text x="1890.0" y="1310" font-family="Liberation Sans, Arial, sans-serif" font-size="52.5" fill="#262626" text-anchor="middle">1000</text>
<text x="113.3" y="619" font-family="Liberation Sans, Arial, sans-serif" font-size="53" fill="#262626">10</text>
<text x="171.6" y="592.3" font-family="Liberation Sans, Arial, sans-serif" font-size="43.5" fill="#262626">0</text>
<text x="91.8" y="1236" font-family="Liberation Sans, Arial, sans-serif" font-size="53" fill="#262626">10</text>
<text x="148.3" y="1208.3" font-family="Liberation Sans, Arial, sans-serif" font-size="43.5" fill="#262626">−1</text>
<text x="928" y="1377" font-family="Liberation Sans, Arial, sans-serif" font-size="56" fill="#262626" textLength="247.2" lengthAdjust="spacing">time step</text>
<text transform="translate(72.8,767.5) rotate(-90)" font-family="Liberation Sans, Arial, sans-serif" font-size="58" fill="#262626" textLength="183.1" lengthAdjust="spacingAndGlyphs">sRMSE</text>
<text transform="translate(66.5,581.1) rotate(-90)" font-family="Liberation Sans, Arial, sans-serif" font-size="58" fill="#262626" textLength="70.6" lengthAdjust="spacingAndGlyphs">[−]</text>
<rect x="1230.6" y="54.5" width="636.9" height="221.5" fill="#fff" stroke="#a3a3a3" stroke-width="2.6"/>
<line x1="1239" y1="84.8" x2="1324" y2="84.8" stroke="#0000ff" stroke-width="6.3"/>
<text x="1330" y="102.0" font-family="IPAPGothic, IPAGothic, Liberation Sans, sans-serif" font-size="46.5" fill="#000" stroke="#000" stroke-width="0.45" textLength="420.8" lengthAdjust="spacing">RL+PI(MIMO policy)</text>
<line x1="1239" y1="138.7" x2="1324" y2="138.7" stroke="#00ff00" stroke-width="6.3" stroke-dasharray="20.3 5.1 10.2 5.1"/>
<text x="1330" y="155.9" font-family="IPAPGothic, IPAGothic, Liberation Sans, sans-serif" font-size="46.5" fill="#000" stroke="#000" stroke-width="0.45" textLength="405.7" lengthAdjust="spacing">RL+PI(SISO policy)</text>
<line x1="1239" y1="192.2" x2="1324" y2="192.2" stroke="#ff0000" stroke-width="6.3" stroke-dasharray="20.3 20.3"/>
<text x="1330" y="209.4" font-family="IPAPGothic, IPAGothic, Liberation Sans, sans-serif" font-size="46.5" fill="#000" stroke="#000" stroke-width="0.45" textLength="527.0" lengthAdjust="spacing">Ziegler−Nichols PI+Smith</text>
<line x1="1239" y1="245.9" x2="1324" y2="245.9" stroke="#ff00ff" stroke-width="6.3" stroke-dasharray="5.1 5.1"/>
<text x="1330" y="263.1" font-family="IPAPGothic, IPAGothic, Liberation Sans, sans-serif" font-size="46.5" fill="#000" stroke="#000" stroke-width="0.45" textLength="100.3" lengthAdjust="spacing">PSO</text>
</svg></body></html>
